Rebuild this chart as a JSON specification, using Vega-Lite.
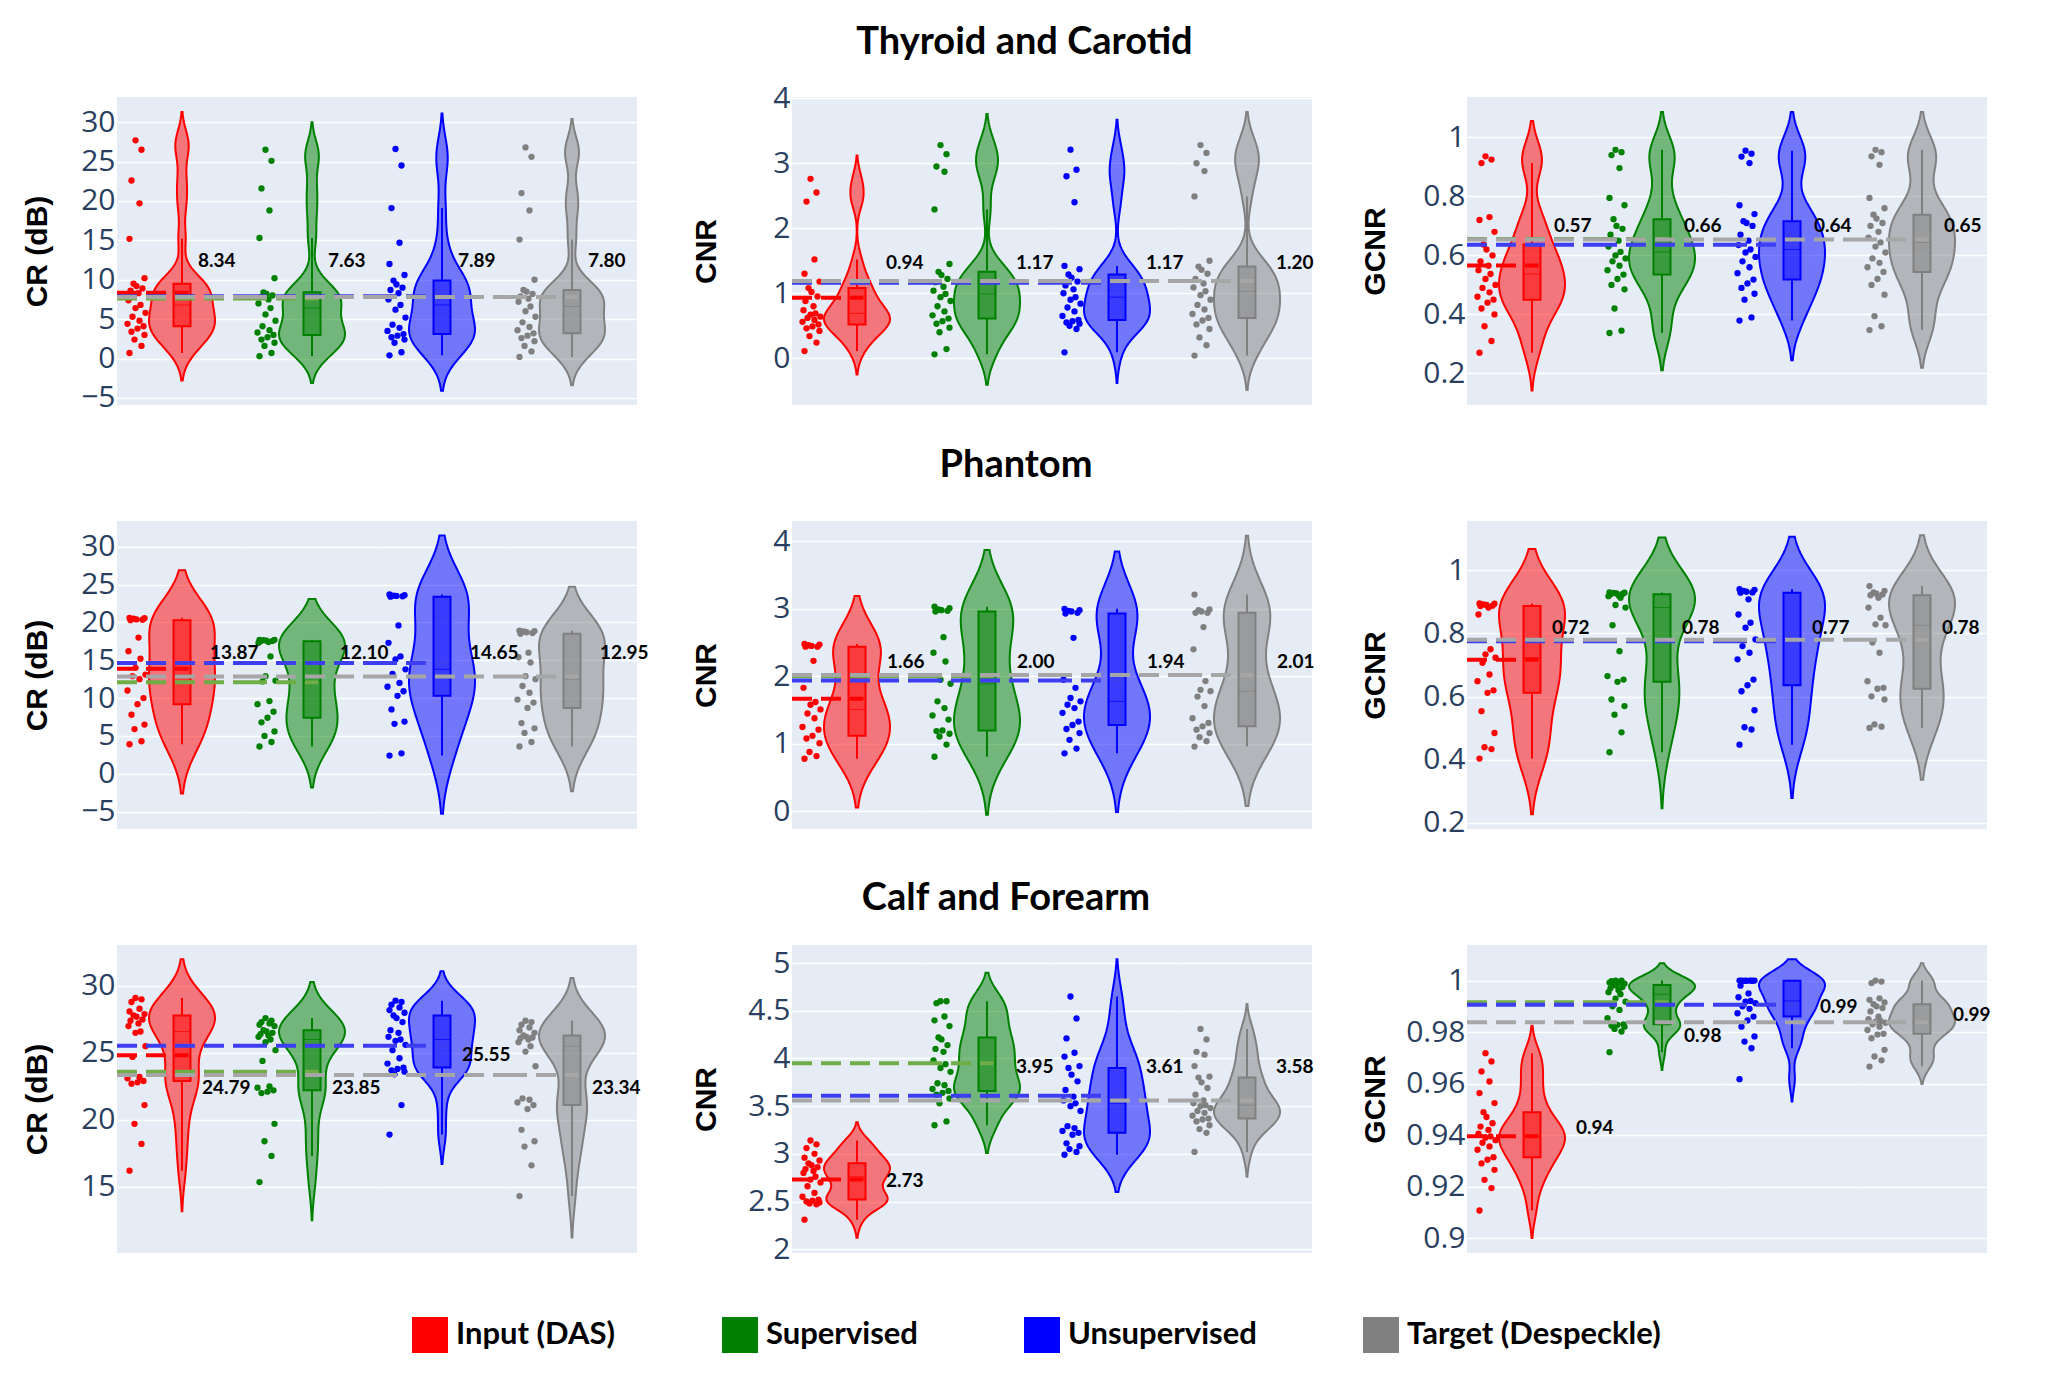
{
"$schema": "https://vega.github.io/schema/vega-lite/v6.json",
"autosize": {"type": "none"},
"padding": {"left": 117, "top": 97, "right": 1949, "bottom": 1280},
"background": "#FFFFFF",
"datasets": {
"T_CR": [
{"g":"Input (DAS)","v":0.7},{"g":"Input (DAS)","v":1.6},{"g":"Input (DAS)","v":2.4},{"g":"Input (DAS)","v":3.0},{"g":"Input (DAS)","v":3.4},{"g":"Input (DAS)","v":3.8},{"g":"Input (DAS)","v":4.1},{"g":"Input (DAS)","v":4.4},{"g":"Input (DAS)","v":4.8},{"g":"Input (DAS)","v":5.3},{"g":"Input (DAS)","v":5.8},{"g":"Input (DAS)","v":6.4},{"g":"Input (DAS)","v":6.8},{"g":"Input (DAS)","v":7.4},{"g":"Input (DAS)","v":8.3},{"g":"Input (DAS)","v":8.6},{"g":"Input (DAS)","v":8.9},{"g":"Input (DAS)","v":9.2},{"g":"Input (DAS)","v":9.5},{"g":"Input (DAS)","v":10.2},{"g":"Input (DAS)","v":15.2},{"g":"Input (DAS)","v":19.7},{"g":"Input (DAS)","v":22.6},{"g":"Input (DAS)","v":26.5},{"g":"Input (DAS)","v":27.7},
{"g":"Supervised","v":0.3},{"g":"Supervised","v":0.7},{"g":"Supervised","v":1.6},{"g":"Supervised","v":2.0},{"g":"Supervised","v":2.4},{"g":"Supervised","v":2.7},{"g":"Supervised","v":3.0},{"g":"Supervised","v":3.3},{"g":"Supervised","v":3.6},{"g":"Supervised","v":4.1},{"g":"Supervised","v":4.8},{"g":"Supervised","v":5.6},{"g":"Supervised","v":6.4},{"g":"Supervised","v":7.0},{"g":"Supervised","v":7.5},{"g":"Supervised","v":7.8},{"g":"Supervised","v":8.0},{"g":"Supervised","v":8.2},{"g":"Supervised","v":8.4},{"g":"Supervised","v":10.2},{"g":"Supervised","v":15.3},{"g":"Supervised","v":18.8},{"g":"Supervised","v":21.6},{"g":"Supervised","v":25.1},{"g":"Supervised","v":26.5},
{"g":"Unsupervised","v":0.4},{"g":"Unsupervised","v":0.8},{"g":"Unsupervised","v":2.0},{"g":"Unsupervised","v":2.4},{"g":"Unsupervised","v":2.7},{"g":"Unsupervised","v":2.9},{"g":"Unsupervised","v":3.1},{"g":"Unsupervised","v":3.5},{"g":"Unsupervised","v":3.9},{"g":"Unsupervised","v":4.3},{"g":"Unsupervised","v":5.2},{"g":"Unsupervised","v":6.2},{"g":"Unsupervised","v":6.8},{"g":"Unsupervised","v":7.5},{"g":"Unsupervised","v":8.3},{"g":"Unsupervised","v":8.7},{"g":"Unsupervised","v":9.0},{"g":"Unsupervised","v":9.4},{"g":"Unsupervised","v":9.9},{"g":"Unsupervised","v":10.6},{"g":"Unsupervised","v":12.0},{"g":"Unsupervised","v":14.7},{"g":"Unsupervised","v":19.1},{"g":"Unsupervised","v":24.5},{"g":"Unsupervised","v":26.6},
{"g":"Target (Despeckle)","v":0.2},{"g":"Target (Despeckle)","v":0.9},{"g":"Target (Despeckle)","v":1.6},{"g":"Target (Despeckle)","v":2.2},{"g":"Target (Despeckle)","v":2.6},{"g":"Target (Despeckle)","v":2.9},{"g":"Target (Despeckle)","v":3.2},{"g":"Target (Despeckle)","v":3.6},{"g":"Target (Despeckle)","v":4.0},{"g":"Target (Despeckle)","v":4.6},{"g":"Target (Despeckle)","v":5.3},{"g":"Target (Despeckle)","v":6.0},{"g":"Target (Despeckle)","v":6.6},{"g":"Target (Despeckle)","v":7.2},{"g":"Target (Despeckle)","v":7.6},{"g":"Target (Despeckle)","v":7.9},{"g":"Target (Despeckle)","v":8.2},{"g":"Target (Despeckle)","v":8.5},{"g":"Target (Despeckle)","v":8.7},{"g":"Target (Despeckle)","v":10.0},{"g":"Target (Despeckle)","v":15.1},{"g":"Target (Despeckle)","v":18.8},{"g":"Target (Despeckle)","v":21.0},{"g":"Target (Despeckle)","v":25.6},{"g":"Target (Despeckle)","v":26.8}
],
"T_CNR": [
{"g":"Input (DAS)","v":0.11},{"g":"Input (DAS)","v":0.24},{"g":"Input (DAS)","v":0.34},{"g":"Input (DAS)","v":0.42},{"g":"Input (DAS)","v":0.46},{"g":"Input (DAS)","v":0.49},{"g":"Input (DAS)","v":0.52},{"g":"Input (DAS)","v":0.56},{"g":"Input (DAS)","v":0.59},{"g":"Input (DAS)","v":0.62},{"g":"Input (DAS)","v":0.64},{"g":"Input (DAS)","v":0.67},{"g":"Input (DAS)","v":0.69},{"g":"Input (DAS)","v":0.74},{"g":"Input (DAS)","v":0.80},{"g":"Input (DAS)","v":0.88},{"g":"Input (DAS)","v":0.95},{"g":"Input (DAS)","v":1.02},{"g":"Input (DAS)","v":1.08},{"g":"Input (DAS)","v":1.18},{"g":"Input (DAS)","v":1.30},{"g":"Input (DAS)","v":1.52},{"g":"Input (DAS)","v":2.41},{"g":"Input (DAS)","v":2.55},{"g":"Input (DAS)","v":2.76},
{"g":"Supervised","v":0.06},{"g":"Supervised","v":0.14},{"g":"Supervised","v":0.40},{"g":"Supervised","v":0.47},{"g":"Supervised","v":0.53},{"g":"Supervised","v":0.57},{"g":"Supervised","v":0.61},{"g":"Supervised","v":0.66},{"g":"Supervised","v":0.72},{"g":"Supervised","v":0.80},{"g":"Supervised","v":0.88},{"g":"Supervised","v":0.94},{"g":"Supervised","v":0.99},{"g":"Supervised","v":1.04},{"g":"Supervised","v":1.10},{"g":"Supervised","v":1.17},{"g":"Supervised","v":1.22},{"g":"Supervised","v":1.28},{"g":"Supervised","v":1.33},{"g":"Supervised","v":1.45},{"g":"Supervised","v":2.29},{"g":"Supervised","v":2.87},{"g":"Supervised","v":2.95},{"g":"Supervised","v":3.14},{"g":"Supervised","v":3.28},
{"g":"Unsupervised","v":0.09},{"g":"Unsupervised","v":0.45},{"g":"Unsupervised","v":0.50},{"g":"Unsupervised","v":0.53},{"g":"Unsupervised","v":0.55},{"g":"Unsupervised","v":0.57},{"g":"Unsupervised","v":0.59},{"g":"Unsupervised","v":0.65},{"g":"Unsupervised","v":0.72},{"g":"Unsupervised","v":0.78},{"g":"Unsupervised","v":0.84},{"g":"Unsupervised","v":0.90},{"g":"Unsupervised","v":0.94},{"g":"Unsupervised","v":1.00},{"g":"Unsupervised","v":1.06},{"g":"Unsupervised","v":1.12},{"g":"Unsupervised","v":1.18},{"g":"Unsupervised","v":1.24},{"g":"Unsupervised","v":1.29},{"g":"Unsupervised","v":1.37},{"g":"Unsupervised","v":1.42},{"g":"Unsupervised","v":2.40},{"g":"Unsupervised","v":2.80},{"g":"Unsupervised","v":2.90},{"g":"Unsupervised","v":3.21},
{"g":"Target (Despeckle)","v":0.04},{"g":"Target (Despeckle)","v":0.20},{"g":"Target (Despeckle)","v":0.32},{"g":"Target (Despeckle)","v":0.45},{"g":"Target (Despeckle)","v":0.52},{"g":"Target (Despeckle)","v":0.58},{"g":"Target (Despeckle)","v":0.62},{"g":"Target (Despeckle)","v":0.68},{"g":"Target (Despeckle)","v":0.75},{"g":"Target (Despeckle)","v":0.82},{"g":"Target (Despeckle)","v":0.90},{"g":"Target (Despeckle)","v":0.97},{"g":"Target (Despeckle)","v":1.03},{"g":"Target (Despeckle)","v":1.09},{"g":"Target (Despeckle)","v":1.15},{"g":"Target (Despeckle)","v":1.22},{"g":"Target (Despeckle)","v":1.30},{"g":"Target (Despeckle)","v":1.36},{"g":"Target (Despeckle)","v":1.41},{"g":"Target (Despeckle)","v":1.50},{"g":"Target (Despeckle)","v":2.49},{"g":"Target (Despeckle)","v":2.88},{"g":"Target (Despeckle)","v":3.00},{"g":"Target (Despeckle)","v":3.16},{"g":"Target (Despeckle)","v":3.28}
],
"T_GCNR": [
{"g":"Input (DAS)","v":0.27},{"g":"Input (DAS)","v":0.31},{"g":"Input (DAS)","v":0.36},{"g":"Input (DAS)","v":0.40},{"g":"Input (DAS)","v":0.42},{"g":"Input (DAS)","v":0.44},{"g":"Input (DAS)","v":0.45},{"g":"Input (DAS)","v":0.46},{"g":"Input (DAS)","v":0.475},{"g":"Input (DAS)","v":0.49},{"g":"Input (DAS)","v":0.50},{"g":"Input (DAS)","v":0.52},{"g":"Input (DAS)","v":0.537},{"g":"Input (DAS)","v":0.55},{"g":"Input (DAS)","v":0.565},{"g":"Input (DAS)","v":0.58},{"g":"Input (DAS)","v":0.60},{"g":"Input (DAS)","v":0.62},{"g":"Input (DAS)","v":0.637},{"g":"Input (DAS)","v":0.68},{"g":"Input (DAS)","v":0.72},{"g":"Input (DAS)","v":0.73},{"g":"Input (DAS)","v":0.913},{"g":"Input (DAS)","v":0.925},{"g":"Input (DAS)","v":0.936},
{"g":"Supervised","v":0.337},{"g":"Supervised","v":0.345},{"g":"Supervised","v":0.42},{"g":"Supervised","v":0.485},{"g":"Supervised","v":0.50},{"g":"Supervised","v":0.52},{"g":"Supervised","v":0.535},{"g":"Supervised","v":0.55},{"g":"Supervised","v":0.565},{"g":"Supervised","v":0.58},{"g":"Supervised","v":0.59},{"g":"Supervised","v":0.60},{"g":"Supervised","v":0.612},{"g":"Supervised","v":0.63},{"g":"Supervised","v":0.65},{"g":"Supervised","v":0.67},{"g":"Supervised","v":0.69},{"g":"Supervised","v":0.70},{"g":"Supervised","v":0.723},{"g":"Supervised","v":0.77},{"g":"Supervised","v":0.795},{"g":"Supervised","v":0.896},{"g":"Supervised","v":0.94},{"g":"Supervised","v":0.95},{"g":"Supervised","v":0.958},
{"g":"Unsupervised","v":0.379},{"g":"Unsupervised","v":0.39},{"g":"Unsupervised","v":0.45},{"g":"Unsupervised","v":0.47},{"g":"Unsupervised","v":0.49},{"g":"Unsupervised","v":0.505},{"g":"Unsupervised","v":0.518},{"g":"Unsupervised","v":0.54},{"g":"Unsupervised","v":0.56},{"g":"Unsupervised","v":0.58},{"g":"Unsupervised","v":0.595},{"g":"Unsupervised","v":0.61},{"g":"Unsupervised","v":0.62},{"g":"Unsupervised","v":0.635},{"g":"Unsupervised","v":0.65},{"g":"Unsupervised","v":0.67},{"g":"Unsupervised","v":0.70},{"g":"Unsupervised","v":0.71},{"g":"Unsupervised","v":0.716},{"g":"Unsupervised","v":0.74},{"g":"Unsupervised","v":0.77},{"g":"Unsupervised","v":0.913},{"g":"Unsupervised","v":0.935},{"g":"Unsupervised","v":0.945},{"g":"Unsupervised","v":0.955},
{"g":"Target (Despeckle)","v":0.347},{"g":"Target (Despeckle)","v":0.36},{"g":"Target (Despeckle)","v":0.394},{"g":"Target (Despeckle)","v":0.467},{"g":"Target (Despeckle)","v":0.50},{"g":"Target (Despeckle)","v":0.52},{"g":"Target (Despeckle)","v":0.544},{"g":"Target (Despeckle)","v":0.56},{"g":"Target (Despeckle)","v":0.575},{"g":"Target (Despeckle)","v":0.59},{"g":"Target (Despeckle)","v":0.61},{"g":"Target (Despeckle)","v":0.63},{"g":"Target (Despeckle)","v":0.644},{"g":"Target (Despeckle)","v":0.66},{"g":"Target (Despeckle)","v":0.68},{"g":"Target (Despeckle)","v":0.70},{"g":"Target (Despeckle)","v":0.71},{"g":"Target (Despeckle)","v":0.725},{"g":"Target (Despeckle)","v":0.738},{"g":"Target (Despeckle)","v":0.76},{"g":"Target (Despeckle)","v":0.795},{"g":"Target (Despeckle)","v":0.907},{"g":"Target (Despeckle)","v":0.936},{"g":"Target (Despeckle)","v":0.95},{"g":"Target (Despeckle)","v":0.958}
],
"P_CR": [
{"g":"Input (DAS)","v":3.9},{"g":"Input (DAS)","v":4.3},{"g":"Input (DAS)","v":5.9},{"g":"Input (DAS)","v":6.5},{"g":"Input (DAS)","v":7.8},{"g":"Input (DAS)","v":9.2},{"g":"Input (DAS)","v":10.0},{"g":"Input (DAS)","v":11.0},{"g":"Input (DAS)","v":12.5},{"g":"Input (DAS)","v":12.9},{"g":"Input (DAS)","v":13.1},{"g":"Input (DAS)","v":14.0},{"g":"Input (DAS)","v":15.2},{"g":"Input (DAS)","v":16.2},{"g":"Input (DAS)","v":18.0},{"g":"Input (DAS)","v":20.3},{"g":"Input (DAS)","v":20.35},{"g":"Input (DAS)","v":20.4},{"g":"Input (DAS)","v":20.5},{"g":"Input (DAS)","v":20.55},{"g":"Input (DAS)","v":20.6},
{"g":"Supervised","v":3.6},{"g":"Supervised","v":4.2},{"g":"Supervised","v":5.0},{"g":"Supervised","v":5.6},{"g":"Supervised","v":6.8},{"g":"Supervised","v":7.4},{"g":"Supervised","v":8.2},{"g":"Supervised","v":9.2},{"g":"Supervised","v":9.6},{"g":"Supervised","v":12.2},{"g":"Supervised","v":12.3},{"g":"Supervised","v":12.9},{"g":"Supervised","v":15.5},{"g":"Supervised","v":17.3},{"g":"Supervised","v":17.4},{"g":"Supervised","v":17.5},{"g":"Supervised","v":17.55},{"g":"Supervised","v":17.6},{"g":"Supervised","v":17.65},{"g":"Supervised","v":17.7},{"g":"Supervised","v":17.7},
{"g":"Unsupervised","v":2.4},{"g":"Unsupervised","v":2.7},{"g":"Unsupervised","v":6.6},{"g":"Unsupervised","v":6.9},{"g":"Unsupervised","v":8.5},{"g":"Unsupervised","v":10.3},{"g":"Unsupervised","v":10.9},{"g":"Unsupervised","v":11.5},{"g":"Unsupervised","v":12.0},{"g":"Unsupervised","v":13.2},{"g":"Unsupervised","v":13.8},{"g":"Unsupervised","v":15.1},{"g":"Unsupervised","v":15.5},{"g":"Unsupervised","v":17.3},{"g":"Unsupervised","v":19.6},{"g":"Unsupervised","v":23.4},{"g":"Unsupervised","v":23.45},{"g":"Unsupervised","v":23.5},{"g":"Unsupervised","v":23.55},{"g":"Unsupervised","v":23.6},{"g":"Unsupervised","v":23.7},
{"g":"Target (Despeckle)","v":3.6},{"g":"Target (Despeckle)","v":4.2},{"g":"Target (Despeckle)","v":5.4},{"g":"Target (Despeckle)","v":6.0},{"g":"Target (Despeckle)","v":6.7},{"g":"Target (Despeckle)","v":8.7},{"g":"Target (Despeckle)","v":9.4},{"g":"Target (Despeckle)","v":9.8},{"g":"Target (Despeckle)","v":10.7},{"g":"Target (Despeckle)","v":11.6},{"g":"Target (Despeckle)","v":12.5},{"g":"Target (Despeckle)","v":12.9},{"g":"Target (Despeckle)","v":14.7},{"g":"Target (Despeckle)","v":15.4},{"g":"Target (Despeckle)","v":16.0},{"g":"Target (Despeckle)","v":18.5},{"g":"Target (Despeckle)","v":18.6},{"g":"Target (Despeckle)","v":18.7},{"g":"Target (Despeckle)","v":18.8},{"g":"Target (Despeckle)","v":18.85},{"g":"Target (Despeckle)","v":18.9}
],
"P_CNR": [
{"g":"Input (DAS)","v":0.78},{"g":"Input (DAS)","v":0.82},{"g":"Input (DAS)","v":0.88},{"g":"Input (DAS)","v":1.01},{"g":"Input (DAS)","v":1.08},{"g":"Input (DAS)","v":1.12},{"g":"Input (DAS)","v":1.21},{"g":"Input (DAS)","v":1.25},{"g":"Input (DAS)","v":1.38},{"g":"Input (DAS)","v":1.45},{"g":"Input (DAS)","v":1.51},{"g":"Input (DAS)","v":1.58},{"g":"Input (DAS)","v":1.62},{"g":"Input (DAS)","v":1.83},{"g":"Input (DAS)","v":2.23},{"g":"Input (DAS)","v":2.44},{"g":"Input (DAS)","v":2.44},{"g":"Input (DAS)","v":2.45},{"g":"Input (DAS)","v":2.46},{"g":"Input (DAS)","v":2.47},{"g":"Input (DAS)","v":2.48},
{"g":"Supervised","v":0.81},{"g":"Supervised","v":0.99},{"g":"Supervised","v":1.11},{"g":"Supervised","v":1.15},{"g":"Supervised","v":1.19},{"g":"Supervised","v":1.20},{"g":"Supervised","v":1.36},{"g":"Supervised","v":1.42},{"g":"Supervised","v":1.53},{"g":"Supervised","v":1.63},{"g":"Supervised","v":1.89},{"g":"Supervised","v":1.95},{"g":"Supervised","v":2.22},{"g":"Supervised","v":2.35},{"g":"Supervised","v":2.58},{"g":"Supervised","v":2.96},{"g":"Supervised","v":2.97},{"g":"Supervised","v":2.98},{"g":"Supervised","v":2.99},{"g":"Supervised","v":3.01},{"g":"Supervised","v":3.03},
{"g":"Unsupervised","v":0.86},{"g":"Unsupervised","v":0.93},{"g":"Unsupervised","v":1.06},{"g":"Unsupervised","v":1.16},{"g":"Unsupervised","v":1.22},{"g":"Unsupervised","v":1.28},{"g":"Unsupervised","v":1.33},{"g":"Unsupervised","v":1.46},{"g":"Unsupervised","v":1.53},{"g":"Unsupervised","v":1.58},{"g":"Unsupervised","v":1.63},{"g":"Unsupervised","v":1.68},{"g":"Unsupervised","v":1.83},{"g":"Unsupervised","v":1.95},{"g":"Unsupervised","v":2.57},{"g":"Unsupervised","v":2.93},{"g":"Unsupervised","v":2.94},{"g":"Unsupervised","v":2.96},{"g":"Unsupervised","v":2.97},{"g":"Unsupervised","v":2.98},{"g":"Unsupervised","v":3.00},
{"g":"Target (Despeckle)","v":0.96},{"g":"Target (Despeckle)","v":1.04},{"g":"Target (Despeckle)","v":1.10},{"g":"Target (Despeckle)","v":1.16},{"g":"Target (Despeckle)","v":1.21},{"g":"Target (Despeckle)","v":1.26},{"g":"Target (Despeckle)","v":1.31},{"g":"Target (Despeckle)","v":1.38},{"g":"Target (Despeckle)","v":1.56},{"g":"Target (Despeckle)","v":1.70},{"g":"Target (Despeckle)","v":1.78},{"g":"Target (Despeckle)","v":1.80},{"g":"Target (Despeckle)","v":1.93},{"g":"Target (Despeckle)","v":2.40},{"g":"Target (Despeckle)","v":2.73},{"g":"Target (Despeckle)","v":2.94},{"g":"Target (Despeckle)","v":2.94},{"g":"Target (Despeckle)","v":2.96},{"g":"Target (Despeckle)","v":2.98},{"g":"Target (Despeckle)","v":2.99},{"g":"Target (Despeckle)","v":3.21}
],
"P_GCNR": [
{"g":"Input (DAS)","v":0.404},{"g":"Input (DAS)","v":0.434},{"g":"Input (DAS)","v":0.44},{"g":"Input (DAS)","v":0.485},{"g":"Input (DAS)","v":0.554},{"g":"Input (DAS)","v":0.612},{"g":"Input (DAS)","v":0.62},{"g":"Input (DAS)","v":0.649},{"g":"Input (DAS)","v":0.67},{"g":"Input (DAS)","v":0.707},{"g":"Input (DAS)","v":0.723},{"g":"Input (DAS)","v":0.734},{"g":"Input (DAS)","v":0.75},{"g":"Input (DAS)","v":0.86},{"g":"Input (DAS)","v":0.882},{"g":"Input (DAS)","v":0.887},{"g":"Input (DAS)","v":0.888},{"g":"Input (DAS)","v":0.89},{"g":"Input (DAS)","v":0.892},{"g":"Input (DAS)","v":0.894},{"g":"Input (DAS)","v":0.895},
{"g":"Supervised","v":0.424},{"g":"Supervised","v":0.487},{"g":"Supervised","v":0.543},{"g":"Supervised","v":0.57},{"g":"Supervised","v":0.591},{"g":"Supervised","v":0.647},{"g":"Supervised","v":0.654},{"g":"Supervised","v":0.665},{"g":"Supervised","v":0.744},{"g":"Supervised","v":0.826},{"g":"Supervised","v":0.882},{"g":"Supervised","v":0.89},{"g":"Supervised","v":0.913},{"g":"Supervised","v":0.918},{"g":"Supervised","v":0.92},{"g":"Supervised","v":0.924},{"g":"Supervised","v":0.925},{"g":"Supervised","v":0.927},{"g":"Supervised","v":0.928},{"g":"Supervised","v":0.929},{"g":"Supervised","v":0.93},
{"g":"Unsupervised","v":0.448},{"g":"Unsupervised","v":0.496},{"g":"Unsupervised","v":0.503},{"g":"Unsupervised","v":0.557},{"g":"Unsupervised","v":0.617},{"g":"Unsupervised","v":0.636},{"g":"Unsupervised","v":0.654},{"g":"Unsupervised","v":0.718},{"g":"Unsupervised","v":0.739},{"g":"Unsupervised","v":0.76},{"g":"Unsupervised","v":0.781},{"g":"Unsupervised","v":0.818},{"g":"Unsupervised","v":0.834},{"g":"Unsupervised","v":0.86},{"g":"Unsupervised","v":0.908},{"g":"Unsupervised","v":0.929},{"g":"Unsupervised","v":0.93},{"g":"Unsupervised","v":0.932},{"g":"Unsupervised","v":0.935},{"g":"Unsupervised","v":0.938},{"g":"Unsupervised","v":0.94},
{"g":"Target (Despeckle)","v":0.501},{"g":"Target (Despeckle)","v":0.505},{"g":"Target (Despeckle)","v":0.512},{"g":"Target (Despeckle)","v":0.591},{"g":"Target (Despeckle)","v":0.601},{"g":"Target (Despeckle)","v":0.625},{"g":"Target (Despeckle)","v":0.628},{"g":"Target (Despeckle)","v":0.649},{"g":"Target (Despeckle)","v":0.739},{"g":"Target (Despeckle)","v":0.771},{"g":"Target (Despeckle)","v":0.826},{"g":"Target (Despeckle)","v":0.829},{"g":"Target (Despeckle)","v":0.85},{"g":"Target (Despeckle)","v":0.882},{"g":"Target (Despeckle)","v":0.913},{"g":"Target (Despeckle)","v":0.921},{"g":"Target (Despeckle)","v":0.923},{"g":"Target (Despeckle)","v":0.926},{"g":"Target (Despeckle)","v":0.93},{"g":"Target (Despeckle)","v":0.935},{"g":"Target (Despeckle)","v":0.95}
],
"C_CR": [
{"g":"Input (DAS)","v":16.2},{"g":"Input (DAS)","v":18.2},{"g":"Input (DAS)","v":19.7},{"g":"Input (DAS)","v":21.1},{"g":"Input (DAS)","v":22.7},{"g":"Input (DAS)","v":22.8},{"g":"Input (DAS)","v":22.9},{"g":"Input (DAS)","v":23.1},{"g":"Input (DAS)","v":23.2},{"g":"Input (DAS)","v":24.7},{"g":"Input (DAS)","v":25.5},{"g":"Input (DAS)","v":26.5},{"g":"Input (DAS)","v":26.6},{"g":"Input (DAS)","v":27.0},{"g":"Input (DAS)","v":27.2},{"g":"Input (DAS)","v":27.4},{"g":"Input (DAS)","v":27.5},{"g":"Input (DAS)","v":27.7},{"g":"Input (DAS)","v":27.8},{"g":"Input (DAS)","v":27.9},{"g":"Input (DAS)","v":28.1},{"g":"Input (DAS)","v":28.3},{"g":"Input (DAS)","v":28.8},{"g":"Input (DAS)","v":29.0},{"g":"Input (DAS)","v":29.1},
{"g":"Supervised","v":15.35},{"g":"Supervised","v":17.3},{"g":"Supervised","v":18.4},{"g":"Supervised","v":19.7},{"g":"Supervised","v":22.0},{"g":"Supervised","v":22.1},{"g":"Supervised","v":22.2},{"g":"Supervised","v":22.4},{"g":"Supervised","v":22.5},{"g":"Supervised","v":24.4},{"g":"Supervised","v":25.2},{"g":"Supervised","v":25.8},{"g":"Supervised","v":26.0},{"g":"Supervised","v":26.2},{"g":"Supervised","v":26.3},{"g":"Supervised","v":26.4},{"g":"Supervised","v":26.5},{"g":"Supervised","v":26.6},{"g":"Supervised","v":26.7},{"g":"Supervised","v":27.0},{"g":"Supervised","v":27.1},{"g":"Supervised","v":27.2},{"g":"Supervised","v":27.3},{"g":"Supervised","v":27.4},{"g":"Supervised","v":27.6},
{"g":"Unsupervised","v":18.9},{"g":"Unsupervised","v":21.1},{"g":"Unsupervised","v":23.4},{"g":"Unsupervised","v":23.6},{"g":"Unsupervised","v":23.7},{"g":"Unsupervised","v":23.8},{"g":"Unsupervised","v":23.9},{"g":"Unsupervised","v":24.2},{"g":"Unsupervised","v":24.6},{"g":"Unsupervised","v":25.2},{"g":"Unsupervised","v":25.6},{"g":"Unsupervised","v":25.9},{"g":"Unsupervised","v":26.0},{"g":"Unsupervised","v":26.2},{"g":"Unsupervised","v":26.5},{"g":"Unsupervised","v":26.7},{"g":"Unsupervised","v":27.3},{"g":"Unsupervised","v":27.6},{"g":"Unsupervised","v":27.8},{"g":"Unsupervised","v":28.0},{"g":"Unsupervised","v":28.2},{"g":"Unsupervised","v":28.4},{"g":"Unsupervised","v":28.6},{"g":"Unsupervised","v":28.8},{"g":"Unsupervised","v":28.9},
{"g":"Target (Despeckle)","v":14.3},{"g":"Target (Despeckle)","v":16.6},{"g":"Target (Despeckle)","v":18.0},{"g":"Target (Despeckle)","v":18.4},{"g":"Target (Despeckle)","v":19.25},{"g":"Target (Despeckle)","v":20.8},{"g":"Target (Despeckle)","v":21.1},{"g":"Target (Despeckle)","v":21.3},{"g":"Target (Despeckle)","v":21.5},{"g":"Target (Despeckle)","v":21.6},{"g":"Target (Despeckle)","v":24.0},{"g":"Target (Despeckle)","v":25.1},{"g":"Target (Despeckle)","v":25.5},{"g":"Target (Despeckle)","v":25.8},{"g":"Target (Despeckle)","v":26.0},{"g":"Target (Despeckle)","v":26.1},{"g":"Target (Despeckle)","v":26.15},{"g":"Target (Despeckle)","v":26.2},{"g":"Target (Despeckle)","v":26.3},{"g":"Target (Despeckle)","v":26.5},{"g":"Target (Despeckle)","v":26.7},{"g":"Target (Despeckle)","v":26.9},{"g":"Target (Despeckle)","v":27.1},{"g":"Target (Despeckle)","v":27.3},{"g":"Target (Despeckle)","v":27.4}
],
"C_CNR": [
{"g":"Input (DAS)","v":2.31},{"g":"Input (DAS)","v":2.47},{"g":"Input (DAS)","v":2.48},{"g":"Input (DAS)","v":2.49},{"g":"Input (DAS)","v":2.50},{"g":"Input (DAS)","v":2.51},{"g":"Input (DAS)","v":2.52},{"g":"Input (DAS)","v":2.55},{"g":"Input (DAS)","v":2.59},{"g":"Input (DAS)","v":2.66},{"g":"Input (DAS)","v":2.70},{"g":"Input (DAS)","v":2.73},{"g":"Input (DAS)","v":2.76},{"g":"Input (DAS)","v":2.80},{"g":"Input (DAS)","v":2.82},{"g":"Input (DAS)","v":2.84},{"g":"Input (DAS)","v":2.86},{"g":"Input (DAS)","v":2.88},{"g":"Input (DAS)","v":2.90},{"g":"Input (DAS)","v":2.93},{"g":"Input (DAS)","v":2.96},{"g":"Input (DAS)","v":3.00},{"g":"Input (DAS)","v":3.06},{"g":"Input (DAS)","v":3.10},{"g":"Input (DAS)","v":3.14},
{"g":"Supervised","v":3.30},{"g":"Supervised","v":3.34},{"g":"Supervised","v":3.53},{"g":"Supervised","v":3.58},{"g":"Supervised","v":3.62},{"g":"Supervised","v":3.64},{"g":"Supervised","v":3.66},{"g":"Supervised","v":3.68},{"g":"Supervised","v":3.72},{"g":"Supervised","v":3.74},{"g":"Supervised","v":3.86},{"g":"Supervised","v":3.90},{"g":"Supervised","v":3.94},{"g":"Supervised","v":3.98},{"g":"Supervised","v":4.07},{"g":"Supervised","v":4.10},{"g":"Supervised","v":4.14},{"g":"Supervised","v":4.20},{"g":"Supervised","v":4.22},{"g":"Supervised","v":4.34},{"g":"Supervised","v":4.40},{"g":"Supervised","v":4.44},{"g":"Supervised","v":4.58},{"g":"Supervised","v":4.60},{"g":"Supervised","v":4.60},
{"g":"Unsupervised","v":2.99},{"g":"Unsupervised","v":3.02},{"g":"Unsupervised","v":3.05},{"g":"Unsupervised","v":3.08},{"g":"Unsupervised","v":3.11},{"g":"Unsupervised","v":3.20},{"g":"Unsupervised","v":3.22},{"g":"Unsupervised","v":3.24},{"g":"Unsupervised","v":3.27},{"g":"Unsupervised","v":3.29},{"g":"Unsupervised","v":3.45},{"g":"Unsupervised","v":3.50},{"g":"Unsupervised","v":3.53},{"g":"Unsupervised","v":3.56},{"g":"Unsupervised","v":3.60},{"g":"Unsupervised","v":3.67},{"g":"Unsupervised","v":3.76},{"g":"Unsupervised","v":3.83},{"g":"Unsupervised","v":3.90},{"g":"Unsupervised","v":3.92},{"g":"Unsupervised","v":4.02},{"g":"Unsupervised","v":4.06},{"g":"Unsupervised","v":4.21},{"g":"Unsupervised","v":4.42},{"g":"Unsupervised","v":4.65},
{"g":"Target (Despeckle)","v":3.02},{"g":"Target (Despeckle)","v":3.22},{"g":"Target (Despeckle)","v":3.26},{"g":"Target (Despeckle)","v":3.30},{"g":"Target (Despeckle)","v":3.34},{"g":"Target (Despeckle)","v":3.36},{"g":"Target (Despeckle)","v":3.37},{"g":"Target (Despeckle)","v":3.40},{"g":"Target (Despeckle)","v":3.43},{"g":"Target (Despeckle)","v":3.45},{"g":"Target (Despeckle)","v":3.48},{"g":"Target (Despeckle)","v":3.50},{"g":"Target (Despeckle)","v":3.51},{"g":"Target (Despeckle)","v":3.53},{"g":"Target (Despeckle)","v":3.56},{"g":"Target (Despeckle)","v":3.62},{"g":"Target (Despeckle)","v":3.69},{"g":"Target (Despeckle)","v":3.75},{"g":"Target (Despeckle)","v":3.80},{"g":"Target (Despeckle)","v":3.81},{"g":"Target (Despeckle)","v":3.92},{"g":"Target (Despeckle)","v":4.04},{"g":"Target (Despeckle)","v":4.07},{"g":"Target (Despeckle)","v":4.20},{"g":"Target (Despeckle)","v":4.31}
],
"C_GCNR": [
{"g":"Input (DAS)","v":0.9107},{"g":"Input (DAS)","v":0.9194},{"g":"Input (DAS)","v":0.9226},{"g":"Input (DAS)","v":0.9265},{"g":"Input (DAS)","v":0.929},{"g":"Input (DAS)","v":0.9304},{"g":"Input (DAS)","v":0.9314},{"g":"Input (DAS)","v":0.9343},{"g":"Input (DAS)","v":0.9356},{"g":"Input (DAS)","v":0.937},{"g":"Input (DAS)","v":0.938},{"g":"Input (DAS)","v":0.939},{"g":"Input (DAS)","v":0.9395},{"g":"Input (DAS)","v":0.9405},{"g":"Input (DAS)","v":0.942},{"g":"Input (DAS)","v":0.9433},{"g":"Input (DAS)","v":0.9446},{"g":"Input (DAS)","v":0.947},{"g":"Input (DAS)","v":0.9489},{"g":"Input (DAS)","v":0.9524},{"g":"Input (DAS)","v":0.9563},{"g":"Input (DAS)","v":0.9608},{"g":"Input (DAS)","v":0.9647},{"g":"Input (DAS)","v":0.9686},{"g":"Input (DAS)","v":0.9718},
{"g":"Supervised","v":0.9722},{"g":"Supervised","v":0.9802},{"g":"Supervised","v":0.9812},{"g":"Supervised","v":0.9821},{"g":"Supervised","v":0.9825},{"g":"Supervised","v":0.9828},{"g":"Supervised","v":0.983},{"g":"Supervised","v":0.9854},{"g":"Supervised","v":0.9886},{"g":"Supervised","v":0.99},{"g":"Supervised","v":0.9918},{"g":"Supervised","v":0.993},{"g":"Supervised","v":0.9947},{"g":"Supervised","v":0.9955},{"g":"Supervised","v":0.9962},{"g":"Supervised","v":0.997},{"g":"Supervised","v":0.9975},{"g":"Supervised","v":0.998},{"g":"Supervised","v":0.9983},{"g":"Supervised","v":0.9988},{"g":"Supervised","v":0.9992},{"g":"Supervised","v":0.9995},{"g":"Supervised","v":0.9998},{"g":"Supervised","v":1.0},{"g":"Supervised","v":1.0},
{"g":"Unsupervised","v":0.9617},{"g":"Unsupervised","v":0.9737},{"g":"Unsupervised","v":0.9763},{"g":"Unsupervised","v":0.9783},{"g":"Unsupervised","v":0.9821},{"g":"Unsupervised","v":0.9845},{"g":"Unsupervised","v":0.986},{"g":"Unsupervised","v":0.9873},{"g":"Unsupervised","v":0.989},{"g":"Unsupervised","v":0.99},{"g":"Unsupervised","v":0.9912},{"g":"Unsupervised","v":0.9918},{"g":"Unsupervised","v":0.9921},{"g":"Unsupervised","v":0.9935},{"g":"Unsupervised","v":0.995},{"g":"Unsupervised","v":0.998},{"g":"Unsupervised","v":0.9999},{"g":"Unsupervised","v":0.9999},{"g":"Unsupervised","v":0.9999},{"g":"Unsupervised","v":1.0},{"g":"Unsupervised","v":1.0},{"g":"Unsupervised","v":1.0},{"g":"Unsupervised","v":1.0},{"g":"Unsupervised","v":1.0},{"g":"Unsupervised","v":1.0},
{"g":"Target (Despeckle)","v":0.9666},{"g":"Target (Despeckle)","v":0.969},{"g":"Target (Despeckle)","v":0.9705},{"g":"Target (Despeckle)","v":0.9731},{"g":"Target (Despeckle)","v":0.9776},{"g":"Target (Despeckle)","v":0.979},{"g":"Target (Despeckle)","v":0.9793},{"g":"Target (Despeckle)","v":0.9808},{"g":"Target (Despeckle)","v":0.9821},{"g":"Target (Despeckle)","v":0.983},{"g":"Target (Despeckle)","v":0.9836},{"g":"Target (Despeckle)","v":0.984},{"g":"Target (Despeckle)","v":0.9843},{"g":"Target (Despeckle)","v":0.985},{"g":"Target (Despeckle)","v":0.986},{"g":"Target (Despeckle)","v":0.988},{"g":"Target (Despeckle)","v":0.9893},{"g":"Target (Despeckle)","v":0.99},{"g":"Target (Despeckle)","v":0.9908},{"g":"Target (Despeckle)","v":0.9915},{"g":"Target (Despeckle)","v":0.9925},{"g":"Target (Despeckle)","v":0.9931},{"g":"Target (Despeckle)","v":0.999},{"g":"Target (Despeckle)","v":0.9996},{"g":"Target (Despeckle)","v":1.0}
],
"means": [
{"r":"T","m":"CR","g":"Input (DAS)","mean":8.34,"label":"8.34","ly":12.34},
{"r":"T","m":"CR","g":"Supervised","mean":7.63,"label":"7.63","ly":12.34},
{"r":"T","m":"CR","g":"Unsupervised","mean":7.89,"label":"7.89","ly":12.34},
{"r":"T","m":"CR","g":"Target (Despeckle)","mean":7.80,"label":"7.80","ly":12.34},
{"r":"T","m":"CNR","g":"Input (DAS)","mean":0.93,"label":"0.94","ly":1.46},
{"r":"T","m":"CNR","g":"Supervised","mean":1.17,"label":"1.17","ly":1.46},
{"r":"T","m":"CNR","g":"Unsupervised","mean":1.16,"label":"1.17","ly":1.46},
{"r":"T","m":"CNR","g":"Target (Despeckle)","mean":1.19,"label":"1.20","ly":1.46},
{"r":"T","m":"GCNR","g":"Input (DAS)","mean":0.566,"label":"0.57","ly":0.699},
{"r":"T","m":"GCNR","g":"Supervised","mean":0.656,"label":"0.66","ly":0.699},
{"r":"T","m":"GCNR","g":"Unsupervised","mean":0.636,"label":"0.64","ly":0.699},
{"r":"T","m":"GCNR","g":"Target (Despeckle)","mean":0.654,"label":"0.65","ly":0.699},
{"r":"P","m":"CR","g":"Input (DAS)","mean":13.87,"label":"13.87","ly":15.9},
{"r":"P","m":"CR","g":"Supervised","mean":12.10,"label":"12.10","ly":15.9},
{"r":"P","m":"CR","g":"Unsupervised","mean":14.65,"label":"14.65","ly":15.9},
{"r":"P","m":"CR","g":"Target (Despeckle)","mean":12.85,"label":"12.95","ly":15.9},
{"r":"P","m":"CNR","g":"Input (DAS)","mean":1.67,"label":"1.66","ly":2.21},
{"r":"P","m":"CNR","g":"Supervised","mean":2.00,"label":"2.00","ly":2.21},
{"r":"P","m":"CNR","g":"Unsupervised","mean":1.94,"label":"1.94","ly":2.21},
{"r":"P","m":"CNR","g":"Target (Despeckle)","mean":2.02,"label":"2.01","ly":2.21},
{"r":"P","m":"GCNR","g":"Input (DAS)","mean":0.717,"label":"0.72","ly":0.818},
{"r":"P","m":"GCNR","g":"Supervised","mean":0.779,"label":"0.78","ly":0.818},
{"r":"P","m":"GCNR","g":"Unsupervised","mean":0.775,"label":"0.77","ly":0.818},
{"r":"P","m":"GCNR","g":"Target (Despeckle)","mean":0.780,"label":"0.78","ly":0.818},
{"r":"C","m":"CR","g":"Input (DAS)","mean":24.83,"label":"24.79","ly":22.41},
{"r":"C","m":"CR","g":"Supervised","mean":23.6,"label":"23.85","ly":22.41},
{"r":"C","m":"CR","g":"Unsupervised","mean":25.53,"label":"25.55","ly":24.85},
{"r":"C","m":"CR","g":"Target (Despeckle)","mean":23.35,"label":"23.34","ly":22.41},
{"r":"C","m":"CNR","g":"Input (DAS)","mean":2.73,"label":"2.73","ly":2.71},
{"r":"C","m":"CNR","g":"Supervised","mean":3.95,"label":"3.95","ly":3.906},
{"r":"C","m":"CNR","g":"Unsupervised","mean":3.61,"label":"3.61","ly":3.906},
{"r":"C","m":"CNR","g":"Target (Despeckle)","mean":3.56,"label":"3.58","ly":3.906},
{"r":"C","m":"GCNR","g":"Input (DAS)","mean":0.9395,"label":"0.94","ly":0.9427},
{"r":"C","m":"GCNR","g":"Supervised","mean":0.9916,"label":"0.98","ly":0.9785},
{"r":"C","m":"GCNR","g":"Unsupervised","mean":0.9906,"label":"0.99","ly":0.9899},
{"r":"C","m":"GCNR","g":"Target (Despeckle)","mean":0.9838,"label":"0.99","ly":0.9867}
]
},
"columns": 14,
"spacing": {"row": 116, "column": 0},
"bounds": "flush",
"concat": [
{"width":130,"height":308,"resolve":{"scale":{"x":"independent"}},"layer":[
{"data":{"name":"T_CR"},"transform":[{"filter":"datum.g=='Input (DAS)'"},{"density":"v","bandwidth":1.77,"extent":[-2.8,31.3],"steps":100}],"mark":{"type":"area","orient":"horizontal","fill":"#FF0000","stroke":"#FF0000","style":"vio"},"encoding":{"y":{"field":"value","type":"quantitative","scale":{"domain":[-5.9,33.2],"nice":false,"zero":false},"axis":{"title":"CR (dB)","values":[-5,0,5,10,15,20,25,30],"format":"~g","titleX":-71,"titleBaseline":"alphabetic"}},"x":{"field":"density","type":"quantitative","stack":"center","impute":null,"scale":{"nice":false,"zero":false,"padding":32},"axis":null}}},
{"data":{"name":"T_CR"},"transform":[{"filter":"datum.g=='Input (DAS)'"}],"mark":{"type":"boxplot","outliers":false,"size":17,"box":{"fill":"#FF0000","stroke":"#FF0000","fillOpacity":0.5,"strokeWidth":2},"median":{"color":"#FF0000","strokeWidth":2},"rule":{"color":"#FF0000","strokeWidth":2}},"encoding":{"y":{"field":"v","type":"quantitative","title":"CR (dB)"}}},
{"data":{"name":"T_CR"},"transform":[{"filter":"datum.g=='Input (DAS)'"},{"window":[{"op":"row_number","as":"k"}]}],"mark":{"type":"circle","size":40,"opacity":1},"encoding":{"x":{"datum":0.15,"type":"quantitative","scale":{"domain":[0,1]},"axis":null},"xOffset":{"field":"k","type":"quantitative","scale":{"domain":[1,2,3,4,5,6,7,8,9,10,11,12,13,14,15,16,17,18,19,20,21,22,23,24,25],"range":[-7,5,-2,8,-5,1,7,-9,3,-4,9,-1,4,-8,2,-6,6,0,-3,8,-7,3,-5,5,-1],"nice":false,"zero":false}},"y":{"field":"v","type":"quantitative"},"color":{"field":"g","type":"nominal","scale":{"domain":["Input (DAS)","Supervised","Unsupervised","Target (Despeckle)"],"range":["#FF0000","#008000","#0000FF","#808080"]},"legend":{"title":null,"orient":"none","legendX":295,"legendY":1220,"direction":"horizontal","symbolType":"square","symbolSize":1296,"symbolOpacity":0.78,"symbolStrokeWidth":0,"labelExpr":"datum.label == 'Target (Despeckle)' ? '\u00a0\u00a0\u00a0\u00a0\u00a0\u00a0\u00a0Target (Despeckle)' : datum.label"}}}},
{"data":{"name":"means"},"transform":[{"filter":"datum.r=='T'&&datum.m=='CR'&&datum.g=='Input (DAS)'"}],"mark":{"type":"rule","style":"mline"},"encoding":{"x":{"datum":0,"type":"quantitative","scale":{"domain":[0,1]},"axis":null},"x2":{"datum":0.55},"y":{"field":"mean","type":"quantitative"},"stroke":{"field":"g","type":"nominal","scale":{"domain":["Input (DAS)","Supervised","Unsupervised","Target (Despeckle)"],"range":["#FF0000","#70AD47","#3D3DF2","#A6A6A6"]},"legend":null}}},
{"data":{"name":"means"},"transform":[{"filter":"datum.r=='T'&&datum.m=='CR'&&indexof(['Supervised','Unsupervised','Target (Despeckle)'],datum.g)>=0"}],"mark":{"type":"rule","style":"mline"},"encoding":{"x":{"datum":0,"type":"quantitative","scale":{"domain":[0,1]},"axis":null},"x2":{"datum":1},"y":{"field":"mean","type":"quantitative"},"stroke":{"field":"g","type":"nominal","legend":null}}}
]},
{"width":130,"height":308,"resolve":{"scale":{"x":"independent"}},"layer":[
{"data":{"name":"T_CR"},"transform":[{"filter":"datum.g=='Supervised'"},{"density":"v","bandwidth":1.72,"extent":[-3.1,30.0],"steps":100}],"mark":{"type":"area","orient":"horizontal","fill":"#008000","stroke":"#008000","style":"vio"},"encoding":{"y":{"field":"value","type":"quantitative","scale":{"domain":[-5.9,33.2],"nice":false,"zero":false},"axis":{"values":[-5,0,5,10,15,20,25,30],"labels":false,"title":null}},"x":{"field":"density","type":"quantitative","stack":"center","impute":null,"scale":{"nice":false,"zero":false,"padding":32},"axis":null}}},
{"data":{"name":"T_CR"},"transform":[{"filter":"datum.g=='Supervised'"}],"mark":{"type":"boxplot","outliers":false,"size":17,"box":{"fill":"#008000","stroke":"#008000","fillOpacity":0.5,"strokeWidth":2},"median":{"color":"#008000","strokeWidth":2},"rule":{"color":"#008000","strokeWidth":2}},"encoding":{"y":{"field":"v","type":"quantitative","title":null}}},
{"data":{"name":"T_CR"},"transform":[{"filter":"datum.g=='Supervised'"},{"window":[{"op":"row_number","as":"k"}]}],"mark":{"type":"circle","size":40,"opacity":1},"encoding":{"x":{"datum":0.15,"type":"quantitative","scale":{"domain":[0,1]},"axis":null},"xOffset":{"field":"k","type":"quantitative","scale":{"domain":[1,2,3,4,5,6,7,8,9,10,11,12,13,14,15,16,17,18,19,20,21,22,23,24,25],"range":[-7,5,-2,8,-5,1,7,-9,3,-4,9,-1,4,-8,2,-6,6,0,-3,8,-7,3,-5,5,-1],"nice":false,"zero":false}},"y":{"field":"v","type":"quantitative"},"color":{"field":"g","type":"nominal"}}},
{"data":{"name":"means"},"transform":[{"filter":"datum.r=='T'&&datum.m=='CR'&&datum.g=='Supervised'"}],"mark":{"type":"rule","style":"mline"},"encoding":{"x":{"datum":0,"type":"quantitative","scale":{"domain":[0,1]},"axis":null},"x2":{"datum":0.55},"y":{"field":"mean","type":"quantitative"},"stroke":{"field":"g","type":"nominal","legend":null}}},
{"data":{"name":"means"},"transform":[{"filter":"datum.r=='T'&&datum.m=='CR'&&indexof(['Unsupervised','Target (Despeckle)'],datum.g)>=0"}],"mark":{"type":"rule","style":"mline"},"encoding":{"x":{"datum":0,"type":"quantitative","scale":{"domain":[0,1]},"axis":null},"x2":{"datum":1},"y":{"field":"mean","type":"quantitative"},"stroke":{"field":"g","type":"nominal","legend":null}}},
{"data":{"name":"means"},"transform":[{"filter":"datum.r=='T'&&datum.m=='CR'&&datum.g=='Input (DAS)'"}],"mark":{"type":"text","style":"lbl","dx":16},"encoding":{"x":{"datum":-0.5,"type":"quantitative","scale":{"domain":[0,1]},"axis":null},"y":{"field":"ly","type":"quantitative"},"text":{"field":"label","type":"nominal"}}}
]},
{"width":130,"height":308,"resolve":{"scale":{"x":"independent"}},"layer":[
{"data":{"name":"T_CR"},"transform":[{"filter":"datum.g=='Unsupervised'"},{"density":"v","bandwidth":2.25,"extent":[-4.1,31.1],"steps":100}],"mark":{"type":"area","orient":"horizontal","fill":"#0000FF","stroke":"#0000FF","style":"vio"},"encoding":{"y":{"field":"value","type":"quantitative","scale":{"domain":[-5.9,33.2],"nice":false,"zero":false},"axis":{"values":[-5,0,5,10,15,20,25,30],"labels":false,"title":null}},"x":{"field":"density","type":"quantitative","stack":"center","impute":null,"scale":{"nice":false,"zero":false,"padding":32},"axis":null}}},
{"data":{"name":"T_CR"},"transform":[{"filter":"datum.g=='Unsupervised'"}],"mark":{"type":"boxplot","outliers":false,"size":17,"box":{"fill":"#0000FF","stroke":"#0000FF","fillOpacity":0.5,"strokeWidth":2},"median":{"color":"#0000FF","strokeWidth":2},"rule":{"color":"#0000FF","strokeWidth":2}},"encoding":{"y":{"field":"v","type":"quantitative","title":null}}},
{"data":{"name":"T_CR"},"transform":[{"filter":"datum.g=='Unsupervised'"},{"window":[{"op":"row_number","as":"k"}]}],"mark":{"type":"circle","size":40,"opacity":1},"encoding":{"x":{"datum":0.15,"type":"quantitative","scale":{"domain":[0,1]},"axis":null},"xOffset":{"field":"k","type":"quantitative","scale":{"domain":[1,2,3,4,5,6,7,8,9,10,11,12,13,14,15,16,17,18,19,20,21,22,23,24,25],"range":[-7,5,-2,8,-5,1,7,-9,3,-4,9,-1,4,-8,2,-6,6,0,-3,8,-7,3,-5,5,-1],"nice":false,"zero":false}},"y":{"field":"v","type":"quantitative"},"color":{"field":"g","type":"nominal"}}},
{"data":{"name":"means"},"transform":[{"filter":"datum.r=='T'&&datum.m=='CR'&&datum.g=='Unsupervised'"}],"mark":{"type":"rule","style":"mline"},"encoding":{"x":{"datum":0,"type":"quantitative","scale":{"domain":[0,1]},"axis":null},"x2":{"datum":0.55},"y":{"field":"mean","type":"quantitative"},"stroke":{"field":"g","type":"nominal","legend":null}}},
{"data":{"name":"means"},"transform":[{"filter":"datum.r=='T'&&datum.m=='CR'&&datum.g=='Target (Despeckle)'"}],"mark":{"type":"rule","style":"mline"},"encoding":{"x":{"datum":0,"type":"quantitative","scale":{"domain":[0,1]},"axis":null},"x2":{"datum":1},"y":{"field":"mean","type":"quantitative"},"stroke":{"field":"g","type":"nominal","legend":null}}},
{"data":{"name":"means"},"transform":[{"filter":"datum.r=='T'&&datum.m=='CR'&&datum.g=='Supervised'"}],"mark":{"type":"text","style":"lbl","dx":16},"encoding":{"x":{"datum":-0.5,"type":"quantitative","scale":{"domain":[0,1]},"axis":null},"y":{"field":"ly","type":"quantitative"},"text":{"field":"label","type":"nominal"}}}
]},
{"width":130,"height":308,"resolve":{"scale":{"x":"independent"}},"layer":[
{"data":{"name":"T_CR"},"transform":[{"filter":"datum.g=='Target (Despeckle)'"},{"density":"v","bandwidth":1.8,"extent":[-3.4,30.4],"steps":100}],"mark":{"type":"area","orient":"horizontal","fill":"#808080","stroke":"#808080","style":"vio"},"encoding":{"y":{"field":"value","type":"quantitative","scale":{"domain":[-5.9,33.2],"nice":false,"zero":false},"axis":{"values":[-5,0,5,10,15,20,25,30],"labels":false,"title":null}},"x":{"field":"density","type":"quantitative","stack":"center","impute":null,"scale":{"nice":false,"zero":false,"padding":32},"axis":null}}},
{"data":{"name":"T_CR"},"transform":[{"filter":"datum.g=='Target (Despeckle)'"}],"mark":{"type":"boxplot","outliers":false,"size":17,"box":{"fill":"#808080","stroke":"#808080","fillOpacity":0.5,"strokeWidth":2},"median":{"color":"#808080","strokeWidth":2},"rule":{"color":"#808080","strokeWidth":2}},"encoding":{"y":{"field":"v","type":"quantitative","title":null}}},
{"data":{"name":"T_CR"},"transform":[{"filter":"datum.g=='Target (Despeckle)'"},{"window":[{"op":"row_number","as":"k"}]}],"mark":{"type":"circle","size":40,"opacity":1},"encoding":{"x":{"datum":0.15,"type":"quantitative","scale":{"domain":[0,1]},"axis":null},"xOffset":{"field":"k","type":"quantitative","scale":{"domain":[1,2,3,4,5,6,7,8,9,10,11,12,13,14,15,16,17,18,19,20,21,22,23,24,25],"range":[-7,5,-2,8,-5,1,7,-9,3,-4,9,-1,4,-8,2,-6,6,0,-3,8,-7,3,-5,5,-1],"nice":false,"zero":false}},"y":{"field":"v","type":"quantitative"},"color":{"field":"g","type":"nominal"}}},
{"data":{"name":"means"},"transform":[{"filter":"datum.r=='T'&&datum.m=='CR'&&datum.g=='Target (Despeckle)'"}],"mark":{"type":"rule","style":"mline"},"encoding":{"x":{"datum":0,"type":"quantitative","scale":{"domain":[0,1]},"axis":null},"x2":{"datum":0.55},"y":{"field":"mean","type":"quantitative"},"stroke":{"field":"g","type":"nominal","legend":null}}},
{"data":{"name":"means"},"transform":[{"filter":"datum.r=='T'&&datum.m=='CR'&&datum.g=='Unsupervised'"}],"mark":{"type":"text","style":"lbl","dx":16},"encoding":{"x":{"datum":-0.5,"type":"quantitative","scale":{"domain":[0,1]},"axis":null},"y":{"field":"ly","type":"quantitative"},"text":{"field":"label","type":"nominal"}}},
{"data":{"name":"means"},"transform":[{"filter":"datum.r=='T'&&datum.m=='CR'&&datum.g=='Target (Despeckle)'"}],"mark":{"type":"text","style":"lbl","dx":16},"encoding":{"x":{"datum":0.5,"type":"quantitative","scale":{"domain":[0,1]},"axis":null},"y":{"field":"ly","type":"quantitative"},"text":{"field":"label","type":"nominal"}}}
]},
{"width":154.5,"height":308,"data":{"values":[]},"mark":{"type":"point"},"encoding":{},"view":{"fill":"transparent","stroke":null}},
{"width":130,"height":308,"resolve":{"scale":{"x":"independent"}},"layer":[
{"data":{"name":"T_CNR"},"transform":[{"filter":"datum.g=='Input (DAS)'"},{"density":"v","bandwidth":0.18,"extent":[-0.25,3.12],"steps":100}],"mark":{"type":"area","orient":"horizontal","fill":"#FF0000","stroke":"#FF0000","style":"vio"},"encoding":{"y":{"field":"value","type":"quantitative","scale":{"domain":[-0.72,4.02],"nice":false,"zero":false},"axis":{"title":"CNR","values":[0,1,2,3,4],"format":"~g","titleX":-77,"titleBaseline":"alphabetic"}},"x":{"field":"density","type":"quantitative","stack":"center","impute":null,"scale":{"nice":false,"zero":false,"padding":32},"axis":null}}},
{"data":{"name":"T_CNR"},"transform":[{"filter":"datum.g=='Input (DAS)'"}],"mark":{"type":"boxplot","outliers":false,"size":17,"box":{"fill":"#FF0000","stroke":"#FF0000","fillOpacity":0.5,"strokeWidth":2},"median":{"color":"#FF0000","strokeWidth":2},"rule":{"color":"#FF0000","strokeWidth":2}},"encoding":{"y":{"field":"v","type":"quantitative","title":"CNR"}}},
{"data":{"name":"T_CNR"},"transform":[{"filter":"datum.g=='Input (DAS)'"},{"window":[{"op":"row_number","as":"k"}]}],"mark":{"type":"circle","size":40,"opacity":1},"encoding":{"x":{"datum":0.15,"type":"quantitative","scale":{"domain":[0,1]},"axis":null},"xOffset":{"field":"k","type":"quantitative","scale":{"domain":[1,2,3,4,5,6,7,8,9,10,11,12,13,14,15,16,17,18,19,20,21,22,23,24,25],"range":[-7,5,-2,8,-5,1,7,-9,3,-4,9,-1,4,-8,2,-6,6,0,-3,8,-7,3,-5,5,-1],"nice":false,"zero":false}},"y":{"field":"v","type":"quantitative"},"color":{"field":"g","type":"nominal"}}},
{"data":{"name":"means"},"transform":[{"filter":"datum.r=='T'&&datum.m=='CNR'&&datum.g=='Input (DAS)'"}],"mark":{"type":"rule","style":"mline"},"encoding":{"x":{"datum":0,"type":"quantitative","scale":{"domain":[0,1]},"axis":null},"x2":{"datum":0.55},"y":{"field":"mean","type":"quantitative"},"stroke":{"field":"g","type":"nominal","legend":null}}},
{"data":{"name":"means"},"transform":[{"filter":"datum.r=='T'&&datum.m=='CNR'&&indexof(['Supervised','Unsupervised','Target (Despeckle)'],datum.g)>=0"}],"mark":{"type":"rule","style":"mline"},"encoding":{"x":{"datum":0,"type":"quantitative","scale":{"domain":[0,1]},"axis":null},"x2":{"datum":1},"y":{"field":"mean","type":"quantitative"},"stroke":{"field":"g","type":"nominal","legend":null}}}
]},
{"width":130,"height":308,"title":{"text":"Thyroid and Carotid","dx":37.5,"offset":35},"resolve":{"scale":{"x":"independent"}},"layer":[
{"data":{"name":"T_CNR"},"transform":[{"filter":"datum.g=='Supervised'"},{"density":"v","bandwidth":0.24,"extent":[-0.41,3.76],"steps":100}],"mark":{"type":"area","orient":"horizontal","fill":"#008000","stroke":"#008000","style":"vio"},"encoding":{"y":{"field":"value","type":"quantitative","scale":{"domain":[-0.72,4.02],"nice":false,"zero":false},"axis":{"values":[0,1,2,3,4],"labels":false,"title":null}},"x":{"field":"density","type":"quantitative","stack":"center","impute":null,"scale":{"nice":false,"zero":false,"padding":32},"axis":null}}},
{"data":{"name":"T_CNR"},"transform":[{"filter":"datum.g=='Supervised'"}],"mark":{"type":"boxplot","outliers":false,"size":17,"box":{"fill":"#008000","stroke":"#008000","fillOpacity":0.5,"strokeWidth":2},"median":{"color":"#008000","strokeWidth":2},"rule":{"color":"#008000","strokeWidth":2}},"encoding":{"y":{"field":"v","type":"quantitative","title":null}}},
{"data":{"name":"T_CNR"},"transform":[{"filter":"datum.g=='Supervised'"},{"window":[{"op":"row_number","as":"k"}]}],"mark":{"type":"circle","size":40,"opacity":1},"encoding":{"x":{"datum":0.15,"type":"quantitative","scale":{"domain":[0,1]},"axis":null},"xOffset":{"field":"k","type":"quantitative","scale":{"domain":[1,2,3,4,5,6,7,8,9,10,11,12,13,14,15,16,17,18,19,20,21,22,23,24,25],"range":[-7,5,-2,8,-5,1,7,-9,3,-4,9,-1,4,-8,2,-6,6,0,-3,8,-7,3,-5,5,-1],"nice":false,"zero":false}},"y":{"field":"v","type":"quantitative"},"color":{"field":"g","type":"nominal"}}},
{"data":{"name":"means"},"transform":[{"filter":"datum.r=='T'&&datum.m=='CNR'&&datum.g=='Supervised'"}],"mark":{"type":"rule","style":"mline"},"encoding":{"x":{"datum":0,"type":"quantitative","scale":{"domain":[0,1]},"axis":null},"x2":{"datum":0.55},"y":{"field":"mean","type":"quantitative"},"stroke":{"field":"g","type":"nominal","legend":null}}},
{"data":{"name":"means"},"transform":[{"filter":"datum.r=='T'&&datum.m=='CNR'&&indexof(['Unsupervised','Target (Despeckle)'],datum.g)>=0"}],"mark":{"type":"rule","style":"mline"},"encoding":{"x":{"datum":0,"type":"quantitative","scale":{"domain":[0,1]},"axis":null},"x2":{"datum":1},"y":{"field":"mean","type":"quantitative"},"stroke":{"field":"g","type":"nominal","legend":null}}},
{"data":{"name":"means"},"transform":[{"filter":"datum.r=='T'&&datum.m=='CNR'&&datum.g=='Input (DAS)'"}],"mark":{"type":"text","style":"lbl","dx":29},"encoding":{"x":{"datum":-0.5,"type":"quantitative","scale":{"domain":[0,1]},"axis":null},"y":{"field":"ly","type":"quantitative"},"text":{"field":"label","type":"nominal"}}}
]},
{"width":130,"height":308,"resolve":{"scale":{"x":"independent"}},"layer":[
{"data":{"name":"T_CNR"},"transform":[{"filter":"datum.g=='Unsupervised'"},{"density":"v","bandwidth":0.23,"extent":[-0.38,3.67],"steps":100}],"mark":{"type":"area","orient":"horizontal","fill":"#0000FF","stroke":"#0000FF","style":"vio"},"encoding":{"y":{"field":"value","type":"quantitative","scale":{"domain":[-0.72,4.02],"nice":false,"zero":false},"axis":{"values":[0,1,2,3,4],"labels":false,"title":null}},"x":{"field":"density","type":"quantitative","stack":"center","impute":null,"scale":{"nice":false,"zero":false,"padding":32},"axis":null}}},
{"data":{"name":"T_CNR"},"transform":[{"filter":"datum.g=='Unsupervised'"}],"mark":{"type":"boxplot","outliers":false,"size":17,"box":{"fill":"#0000FF","stroke":"#0000FF","fillOpacity":0.5,"strokeWidth":2},"median":{"color":"#0000FF","strokeWidth":2},"rule":{"color":"#0000FF","strokeWidth":2}},"encoding":{"y":{"field":"v","type":"quantitative","title":null}}},
{"data":{"name":"T_CNR"},"transform":[{"filter":"datum.g=='Unsupervised'"},{"window":[{"op":"row_number","as":"k"}]}],"mark":{"type":"circle","size":40,"opacity":1},"encoding":{"x":{"datum":0.15,"type":"quantitative","scale":{"domain":[0,1]},"axis":null},"xOffset":{"field":"k","type":"quantitative","scale":{"domain":[1,2,3,4,5,6,7,8,9,10,11,12,13,14,15,16,17,18,19,20,21,22,23,24,25],"range":[-7,5,-2,8,-5,1,7,-9,3,-4,9,-1,4,-8,2,-6,6,0,-3,8,-7,3,-5,5,-1],"nice":false,"zero":false}},"y":{"field":"v","type":"quantitative"},"color":{"field":"g","type":"nominal"}}},
{"data":{"name":"means"},"transform":[{"filter":"datum.r=='T'&&datum.m=='CNR'&&datum.g=='Unsupervised'"}],"mark":{"type":"rule","style":"mline"},"encoding":{"x":{"datum":0,"type":"quantitative","scale":{"domain":[0,1]},"axis":null},"x2":{"datum":0.55},"y":{"field":"mean","type":"quantitative"},"stroke":{"field":"g","type":"nominal","legend":null}}},
{"data":{"name":"means"},"transform":[{"filter":"datum.r=='T'&&datum.m=='CNR'&&datum.g=='Target (Despeckle)'"}],"mark":{"type":"rule","style":"mline"},"encoding":{"x":{"datum":0,"type":"quantitative","scale":{"domain":[0,1]},"axis":null},"x2":{"datum":1},"y":{"field":"mean","type":"quantitative"},"stroke":{"field":"g","type":"nominal","legend":null}}},
{"data":{"name":"means"},"transform":[{"filter":"datum.r=='T'&&datum.m=='CNR'&&datum.g=='Supervised'"}],"mark":{"type":"text","style":"lbl","dx":29},"encoding":{"x":{"datum":-0.5,"type":"quantitative","scale":{"domain":[0,1]},"axis":null},"y":{"field":"ly","type":"quantitative"},"text":{"field":"label","type":"nominal"}}}
]},
{"width":130,"height":308,"resolve":{"scale":{"x":"independent"}},"layer":[
{"data":{"name":"T_CNR"},"transform":[{"filter":"datum.g=='Target (Despeckle)'"},{"density":"v","bandwidth":0.26,"extent":[-0.49,3.79],"steps":100}],"mark":{"type":"area","orient":"horizontal","fill":"#808080","stroke":"#808080","style":"vio"},"encoding":{"y":{"field":"value","type":"quantitative","scale":{"domain":[-0.72,4.02],"nice":false,"zero":false},"axis":{"values":[0,1,2,3,4],"labels":false,"title":null}},"x":{"field":"density","type":"quantitative","stack":"center","impute":null,"scale":{"nice":false,"zero":false,"padding":32},"axis":null}}},
{"data":{"name":"T_CNR"},"transform":[{"filter":"datum.g=='Target (Despeckle)'"}],"mark":{"type":"boxplot","outliers":false,"size":17,"box":{"fill":"#808080","stroke":"#808080","fillOpacity":0.5,"strokeWidth":2},"median":{"color":"#808080","strokeWidth":2},"rule":{"color":"#808080","strokeWidth":2}},"encoding":{"y":{"field":"v","type":"quantitative","title":null}}},
{"data":{"name":"T_CNR"},"transform":[{"filter":"datum.g=='Target (Despeckle)'"},{"window":[{"op":"row_number","as":"k"}]}],"mark":{"type":"circle","size":40,"opacity":1},"encoding":{"x":{"datum":0.15,"type":"quantitative","scale":{"domain":[0,1]},"axis":null},"xOffset":{"field":"k","type":"quantitative","scale":{"domain":[1,2,3,4,5,6,7,8,9,10,11,12,13,14,15,16,17,18,19,20,21,22,23,24,25],"range":[-7,5,-2,8,-5,1,7,-9,3,-4,9,-1,4,-8,2,-6,6,0,-3,8,-7,3,-5,5,-1],"nice":false,"zero":false}},"y":{"field":"v","type":"quantitative"},"color":{"field":"g","type":"nominal"}}},
{"data":{"name":"means"},"transform":[{"filter":"datum.r=='T'&&datum.m=='CNR'&&datum.g=='Target (Despeckle)'"}],"mark":{"type":"rule","style":"mline"},"encoding":{"x":{"datum":0,"type":"quantitative","scale":{"domain":[0,1]},"axis":null},"x2":{"datum":0.55},"y":{"field":"mean","type":"quantitative"},"stroke":{"field":"g","type":"nominal","legend":null}}},
{"data":{"name":"means"},"transform":[{"filter":"datum.r=='T'&&datum.m=='CNR'&&datum.g=='Unsupervised'"}],"mark":{"type":"text","style":"lbl","dx":29},"encoding":{"x":{"datum":-0.5,"type":"quantitative","scale":{"domain":[0,1]},"axis":null},"y":{"field":"ly","type":"quantitative"},"text":{"field":"label","type":"nominal"}}},
{"data":{"name":"means"},"transform":[{"filter":"datum.r=='T'&&datum.m=='CNR'&&datum.g=='Target (Despeckle)'"}],"mark":{"type":"text","style":"lbl","dx":29},"encoding":{"x":{"datum":0.5,"type":"quantitative","scale":{"domain":[0,1]},"axis":null},"y":{"field":"ly","type":"quantitative"},"text":{"field":"label","type":"nominal"}}}
]},
{"width":154.5,"height":308,"data":{"values":[]},"mark":{"type":"point"},"encoding":{},"view":{"fill":"transparent","stroke":null}},
{"width":130,"height":308,"resolve":{"scale":{"x":"independent"}},"layer":[
{"data":{"name":"T_GCNR"},"transform":[{"filter":"datum.g=='Input (DAS)'"},{"density":"v","bandwidth":0.062,"extent":[0.142,1.056],"steps":100}],"mark":{"type":"area","orient":"horizontal","fill":"#FF0000","stroke":"#FF0000","style":"vio"},"encoding":{"y":{"field":"value","type":"quantitative","scale":{"domain":[0.093,1.137],"nice":false,"zero":false},"axis":{"title":"GCNR","values":[0.2,0.4,0.6,0.8,1],"format":"~g","titleX":-83,"titleBaseline":"alphabetic"}},"x":{"field":"density","type":"quantitative","stack":"center","impute":null,"scale":{"nice":false,"zero":false,"padding":32},"axis":null}}},
{"data":{"name":"T_GCNR"},"transform":[{"filter":"datum.g=='Input (DAS)'"}],"mark":{"type":"boxplot","outliers":false,"size":17,"box":{"fill":"#FF0000","stroke":"#FF0000","fillOpacity":0.5,"strokeWidth":2},"median":{"color":"#FF0000","strokeWidth":2},"rule":{"color":"#FF0000","strokeWidth":2}},"encoding":{"y":{"field":"v","type":"quantitative","title":"GCNR"}}},
{"data":{"name":"T_GCNR"},"transform":[{"filter":"datum.g=='Input (DAS)'"},{"window":[{"op":"row_number","as":"k"}]}],"mark":{"type":"circle","size":40,"opacity":1},"encoding":{"x":{"datum":0.15,"type":"quantitative","scale":{"domain":[0,1]},"axis":null},"xOffset":{"field":"k","type":"quantitative","scale":{"domain":[1,2,3,4,5,6,7,8,9,10,11,12,13,14,15,16,17,18,19,20,21,22,23,24,25],"range":[-7,5,-2,8,-5,1,7,-9,3,-4,9,-1,4,-8,2,-6,6,0,-3,8,-7,3,-5,5,-1],"nice":false,"zero":false}},"y":{"field":"v","type":"quantitative"},"color":{"field":"g","type":"nominal"}}},
{"data":{"name":"means"},"transform":[{"filter":"datum.r=='T'&&datum.m=='GCNR'&&datum.g=='Input (DAS)'"}],"mark":{"type":"rule","style":"mline"},"encoding":{"x":{"datum":0,"type":"quantitative","scale":{"domain":[0,1]},"axis":null},"x2":{"datum":0.55},"y":{"field":"mean","type":"quantitative"},"stroke":{"field":"g","type":"nominal","legend":null}}},
{"data":{"name":"means"},"transform":[{"filter":"datum.r=='T'&&datum.m=='GCNR'&&indexof(['Supervised','Unsupervised','Target (Despeckle)'],datum.g)>=0"}],"mark":{"type":"rule","style":"mline"},"encoding":{"x":{"datum":0,"type":"quantitative","scale":{"domain":[0,1]},"axis":null},"x2":{"datum":1},"y":{"field":"mean","type":"quantitative"},"stroke":{"field":"g","type":"nominal","legend":null}}}
]},
{"width":130,"height":308,"resolve":{"scale":{"x":"independent"}},"layer":[
{"data":{"name":"T_GCNR"},"transform":[{"filter":"datum.g=='Supervised'"},{"density":"v","bandwidth":0.063,"extent":[0.211,1.086],"steps":100}],"mark":{"type":"area","orient":"horizontal","fill":"#008000","stroke":"#008000","style":"vio"},"encoding":{"y":{"field":"value","type":"quantitative","scale":{"domain":[0.093,1.137],"nice":false,"zero":false},"axis":{"values":[0.2,0.4,0.6,0.8,1],"labels":false,"title":null}},"x":{"field":"density","type":"quantitative","stack":"center","impute":null,"scale":{"nice":false,"zero":false,"padding":32},"axis":null}}},
{"data":{"name":"T_GCNR"},"transform":[{"filter":"datum.g=='Supervised'"}],"mark":{"type":"boxplot","outliers":false,"size":17,"box":{"fill":"#008000","stroke":"#008000","fillOpacity":0.5,"strokeWidth":2},"median":{"color":"#008000","strokeWidth":2},"rule":{"color":"#008000","strokeWidth":2}},"encoding":{"y":{"field":"v","type":"quantitative","title":null}}},
{"data":{"name":"T_GCNR"},"transform":[{"filter":"datum.g=='Supervised'"},{"window":[{"op":"row_number","as":"k"}]}],"mark":{"type":"circle","size":40,"opacity":1},"encoding":{"x":{"datum":0.15,"type":"quantitative","scale":{"domain":[0,1]},"axis":null},"xOffset":{"field":"k","type":"quantitative","scale":{"domain":[1,2,3,4,5,6,7,8,9,10,11,12,13,14,15,16,17,18,19,20,21,22,23,24,25],"range":[-7,5,-2,8,-5,1,7,-9,3,-4,9,-1,4,-8,2,-6,6,0,-3,8,-7,3,-5,5,-1],"nice":false,"zero":false}},"y":{"field":"v","type":"quantitative"},"color":{"field":"g","type":"nominal"}}},
{"data":{"name":"means"},"transform":[{"filter":"datum.r=='T'&&datum.m=='GCNR'&&datum.g=='Supervised'"}],"mark":{"type":"rule","style":"mline"},"encoding":{"x":{"datum":0,"type":"quantitative","scale":{"domain":[0,1]},"axis":null},"x2":{"datum":0.55},"y":{"field":"mean","type":"quantitative"},"stroke":{"field":"g","type":"nominal","legend":null}}},
{"data":{"name":"means"},"transform":[{"filter":"datum.r=='T'&&datum.m=='GCNR'&&indexof(['Unsupervised','Target (Despeckle)'],datum.g)>=0"}],"mark":{"type":"rule","style":"mline"},"encoding":{"x":{"datum":0,"type":"quantitative","scale":{"domain":[0,1]},"axis":null},"x2":{"datum":1},"y":{"field":"mean","type":"quantitative"},"stroke":{"field":"g","type":"nominal","legend":null}}},
{"data":{"name":"means"},"transform":[{"filter":"datum.r=='T'&&datum.m=='GCNR'&&datum.g=='Input (DAS)'"}],"mark":{"type":"text","style":"lbl","dx":22},"encoding":{"x":{"datum":-0.5,"type":"quantitative","scale":{"domain":[0,1]},"axis":null},"y":{"field":"ly","type":"quantitative"},"text":{"field":"label","type":"nominal"}}}
]},
{"width":130,"height":308,"resolve":{"scale":{"x":"independent"}},"layer":[
{"data":{"name":"T_GCNR"},"transform":[{"filter":"datum.g=='Unsupervised'"},{"density":"v","bandwidth":0.066,"extent":[0.245,1.086],"steps":100}],"mark":{"type":"area","orient":"horizontal","fill":"#0000FF","stroke":"#0000FF","style":"vio"},"encoding":{"y":{"field":"value","type":"quantitative","scale":{"domain":[0.093,1.137],"nice":false,"zero":false},"axis":{"values":[0.2,0.4,0.6,0.8,1],"labels":false,"title":null}},"x":{"field":"density","type":"quantitative","stack":"center","impute":null,"scale":{"nice":false,"zero":false,"padding":32},"axis":null}}},
{"data":{"name":"T_GCNR"},"transform":[{"filter":"datum.g=='Unsupervised'"}],"mark":{"type":"boxplot","outliers":false,"size":17,"box":{"fill":"#0000FF","stroke":"#0000FF","fillOpacity":0.5,"strokeWidth":2},"median":{"color":"#0000FF","strokeWidth":2},"rule":{"color":"#0000FF","strokeWidth":2}},"encoding":{"y":{"field":"v","type":"quantitative","title":null}}},
{"data":{"name":"T_GCNR"},"transform":[{"filter":"datum.g=='Unsupervised'"},{"window":[{"op":"row_number","as":"k"}]}],"mark":{"type":"circle","size":40,"opacity":1},"encoding":{"x":{"datum":0.15,"type":"quantitative","scale":{"domain":[0,1]},"axis":null},"xOffset":{"field":"k","type":"quantitative","scale":{"domain":[1,2,3,4,5,6,7,8,9,10,11,12,13,14,15,16,17,18,19,20,21,22,23,24,25],"range":[-7,5,-2,8,-5,1,7,-9,3,-4,9,-1,4,-8,2,-6,6,0,-3,8,-7,3,-5,5,-1],"nice":false,"zero":false}},"y":{"field":"v","type":"quantitative"},"color":{"field":"g","type":"nominal"}}},
{"data":{"name":"means"},"transform":[{"filter":"datum.r=='T'&&datum.m=='GCNR'&&datum.g=='Unsupervised'"}],"mark":{"type":"rule","style":"mline"},"encoding":{"x":{"datum":0,"type":"quantitative","scale":{"domain":[0,1]},"axis":null},"x2":{"datum":0.55},"y":{"field":"mean","type":"quantitative"},"stroke":{"field":"g","type":"nominal","legend":null}}},
{"data":{"name":"means"},"transform":[{"filter":"datum.r=='T'&&datum.m=='GCNR'&&datum.g=='Target (Despeckle)'"}],"mark":{"type":"rule","style":"mline"},"encoding":{"x":{"datum":0,"type":"quantitative","scale":{"domain":[0,1]},"axis":null},"x2":{"datum":1},"y":{"field":"mean","type":"quantitative"},"stroke":{"field":"g","type":"nominal","legend":null}}},
{"data":{"name":"means"},"transform":[{"filter":"datum.r=='T'&&datum.m=='GCNR'&&datum.g=='Supervised'"}],"mark":{"type":"text","style":"lbl","dx":22},"encoding":{"x":{"datum":-0.5,"type":"quantitative","scale":{"domain":[0,1]},"axis":null},"y":{"field":"ly","type":"quantitative"},"text":{"field":"label","type":"nominal"}}}
]},
{"width":130,"height":308,"resolve":{"scale":{"x":"independent"}},"layer":[
{"data":{"name":"T_GCNR"},"transform":[{"filter":"datum.g=='Target (Despeckle)'"},{"density":"v","bandwidth":0.064,"extent":[0.219,1.086],"steps":100}],"mark":{"type":"area","orient":"horizontal","fill":"#808080","stroke":"#808080","style":"vio"},"encoding":{"y":{"field":"value","type":"quantitative","scale":{"domain":[0.093,1.137],"nice":false,"zero":false},"axis":{"values":[0.2,0.4,0.6,0.8,1],"labels":false,"title":null}},"x":{"field":"density","type":"quantitative","stack":"center","impute":null,"scale":{"nice":false,"zero":false,"padding":32},"axis":null}}},
{"data":{"name":"T_GCNR"},"transform":[{"filter":"datum.g=='Target (Despeckle)'"}],"mark":{"type":"boxplot","outliers":false,"size":17,"box":{"fill":"#808080","stroke":"#808080","fillOpacity":0.5,"strokeWidth":2},"median":{"color":"#808080","strokeWidth":2},"rule":{"color":"#808080","strokeWidth":2}},"encoding":{"y":{"field":"v","type":"quantitative","title":null}}},
{"data":{"name":"T_GCNR"},"transform":[{"filter":"datum.g=='Target (Despeckle)'"},{"window":[{"op":"row_number","as":"k"}]}],"mark":{"type":"circle","size":40,"opacity":1},"encoding":{"x":{"datum":0.15,"type":"quantitative","scale":{"domain":[0,1]},"axis":null},"xOffset":{"field":"k","type":"quantitative","scale":{"domain":[1,2,3,4,5,6,7,8,9,10,11,12,13,14,15,16,17,18,19,20,21,22,23,24,25],"range":[-7,5,-2,8,-5,1,7,-9,3,-4,9,-1,4,-8,2,-6,6,0,-3,8,-7,3,-5,5,-1],"nice":false,"zero":false}},"y":{"field":"v","type":"quantitative"},"color":{"field":"g","type":"nominal"}}},
{"data":{"name":"means"},"transform":[{"filter":"datum.r=='T'&&datum.m=='GCNR'&&datum.g=='Target (Despeckle)'"}],"mark":{"type":"rule","style":"mline"},"encoding":{"x":{"datum":0,"type":"quantitative","scale":{"domain":[0,1]},"axis":null},"x2":{"datum":0.55},"y":{"field":"mean","type":"quantitative"},"stroke":{"field":"g","type":"nominal","legend":null}}},
{"data":{"name":"means"},"transform":[{"filter":"datum.r=='T'&&datum.m=='GCNR'&&datum.g=='Unsupervised'"}],"mark":{"type":"text","style":"lbl","dx":22},"encoding":{"x":{"datum":-0.5,"type":"quantitative","scale":{"domain":[0,1]},"axis":null},"y":{"field":"ly","type":"quantitative"},"text":{"field":"label","type":"nominal"}}},
{"data":{"name":"means"},"transform":[{"filter":"datum.r=='T'&&datum.m=='GCNR'&&datum.g=='Target (Despeckle)'"}],"mark":{"type":"text","style":"lbl","dx":22},"encoding":{"x":{"datum":0.5,"type":"quantitative","scale":{"domain":[0,1]},"axis":null},"y":{"field":"ly","type":"quantitative"},"text":{"field":"label","type":"nominal"}}}
]},
{"width":130,"height":308,"resolve":{"scale":{"x":"independent"}},"layer":[
{"data":{"name":"P_CR"},"transform":[{"filter":"datum.g=='Input (DAS)'"},{"density":"v","bandwidth":3.2,"extent":[-2.6,26.9],"steps":100}],"mark":{"type":"area","orient":"horizontal","fill":"#FF0000","stroke":"#FF0000","style":"vio"},"encoding":{"y":{"field":"value","type":"quantitative","scale":{"domain":[-7.3,33.4],"nice":false,"zero":false},"axis":{"title":"CR (dB)","values":[-5,0,5,10,15,20,25,30],"format":"~g","titleX":-71,"titleBaseline":"alphabetic"}},"x":{"field":"density","type":"quantitative","stack":"center","impute":null,"scale":{"nice":false,"zero":false,"padding":32},"axis":null}}},
{"data":{"name":"P_CR"},"transform":[{"filter":"datum.g=='Input (DAS)'"}],"mark":{"type":"boxplot","outliers":false,"size":17,"box":{"fill":"#FF0000","stroke":"#FF0000","fillOpacity":0.5,"strokeWidth":2},"median":{"color":"#FF0000","strokeWidth":2},"rule":{"color":"#FF0000","strokeWidth":2}},"encoding":{"y":{"field":"v","type":"quantitative","title":"CR (dB)"}}},
{"data":{"name":"P_CR"},"transform":[{"filter":"datum.g=='Input (DAS)'"},{"window":[{"op":"row_number","as":"k"}]}],"mark":{"type":"circle","size":40,"opacity":1},"encoding":{"x":{"datum":0.15,"type":"quantitative","scale":{"domain":[0,1]},"axis":null},"xOffset":{"field":"k","type":"quantitative","scale":{"domain":[1,2,3,4,5,6,7,8,9,10,11,12,13,14,15,16,17,18,19,20,21,22,23,24,25],"range":[-7,5,-2,8,-5,1,7,-9,3,-4,9,-1,4,-8,2,-6,6,0,-3,8,-7,3,-5,5,-1],"nice":false,"zero":false}},"y":{"field":"v","type":"quantitative"},"color":{"field":"g","type":"nominal"}}},
{"data":{"name":"means"},"transform":[{"filter":"datum.r=='P'&&datum.m=='CR'&&datum.g=='Input (DAS)'"}],"mark":{"type":"rule","style":"mline"},"encoding":{"x":{"datum":0,"type":"quantitative","scale":{"domain":[0,1]},"axis":null},"x2":{"datum":0.55},"y":{"field":"mean","type":"quantitative"},"stroke":{"field":"g","type":"nominal","legend":null}}},
{"data":{"name":"means"},"transform":[{"filter":"datum.r=='P'&&datum.m=='CR'&&indexof(['Supervised','Unsupervised','Target (Despeckle)'],datum.g)>=0"}],"mark":{"type":"rule","style":"mline"},"encoding":{"x":{"datum":0,"type":"quantitative","scale":{"domain":[0,1]},"axis":null},"x2":{"datum":1},"y":{"field":"mean","type":"quantitative"},"stroke":{"field":"g","type":"nominal","legend":null}}}
]},
{"width":130,"height":308,"resolve":{"scale":{"x":"independent"}},"layer":[
{"data":{"name":"P_CR"},"transform":[{"filter":"datum.g=='Supervised'"},{"density":"v","bandwidth":2.7,"extent":[-1.8,23.1],"steps":100}],"mark":{"type":"area","orient":"horizontal","fill":"#008000","stroke":"#008000","style":"vio"},"encoding":{"y":{"field":"value","type":"quantitative","scale":{"domain":[-7.3,33.4],"nice":false,"zero":false},"axis":{"values":[-5,0,5,10,15,20,25,30],"labels":false,"title":null}},"x":{"field":"density","type":"quantitative","stack":"center","impute":null,"scale":{"nice":false,"zero":false,"padding":32},"axis":null}}},
{"data":{"name":"P_CR"},"transform":[{"filter":"datum.g=='Supervised'"}],"mark":{"type":"boxplot","outliers":false,"size":17,"box":{"fill":"#008000","stroke":"#008000","fillOpacity":0.5,"strokeWidth":2},"median":{"color":"#008000","strokeWidth":2},"rule":{"color":"#008000","strokeWidth":2}},"encoding":{"y":{"field":"v","type":"quantitative","title":null}}},
{"data":{"name":"P_CR"},"transform":[{"filter":"datum.g=='Supervised'"},{"window":[{"op":"row_number","as":"k"}]}],"mark":{"type":"circle","size":40,"opacity":1},"encoding":{"x":{"datum":0.15,"type":"quantitative","scale":{"domain":[0,1]},"axis":null},"xOffset":{"field":"k","type":"quantitative","scale":{"domain":[1,2,3,4,5,6,7,8,9,10,11,12,13,14,15,16,17,18,19,20,21,22,23,24,25],"range":[-7,5,-2,8,-5,1,7,-9,3,-4,9,-1,4,-8,2,-6,6,0,-3,8,-7,3,-5,5,-1],"nice":false,"zero":false}},"y":{"field":"v","type":"quantitative"},"color":{"field":"g","type":"nominal"}}},
{"data":{"name":"means"},"transform":[{"filter":"datum.r=='P'&&datum.m=='CR'&&datum.g=='Supervised'"}],"mark":{"type":"rule","style":"mline"},"encoding":{"x":{"datum":0,"type":"quantitative","scale":{"domain":[0,1]},"axis":null},"x2":{"datum":0.55},"y":{"field":"mean","type":"quantitative"},"stroke":{"field":"g","type":"nominal","legend":null}}},
{"data":{"name":"means"},"transform":[{"filter":"datum.r=='P'&&datum.m=='CR'&&indexof(['Unsupervised','Target (Despeckle)'],datum.g)>=0"}],"mark":{"type":"rule","style":"mline"},"encoding":{"x":{"datum":0,"type":"quantitative","scale":{"domain":[0,1]},"axis":null},"x2":{"datum":1},"y":{"field":"mean","type":"quantitative"},"stroke":{"field":"g","type":"nominal","legend":null}}},
{"data":{"name":"means"},"transform":[{"filter":"datum.r=='P'&&datum.m=='CR'&&datum.g=='Input (DAS)'"}],"mark":{"type":"text","style":"lbl","dx":28},"encoding":{"x":{"datum":-0.5,"type":"quantitative","scale":{"domain":[0,1]},"axis":null},"y":{"field":"ly","type":"quantitative"},"text":{"field":"label","type":"nominal"}}}
]},
{"width":130,"height":308,"resolve":{"scale":{"x":"independent"}},"layer":[
{"data":{"name":"P_CR"},"transform":[{"filter":"datum.g=='Unsupervised'"},{"density":"v","bandwidth":3.87,"extent":[-5.3,31.5],"steps":100}],"mark":{"type":"area","orient":"horizontal","fill":"#0000FF","stroke":"#0000FF","style":"vio"},"encoding":{"y":{"field":"value","type":"quantitative","scale":{"domain":[-7.3,33.4],"nice":false,"zero":false},"axis":{"values":[-5,0,5,10,15,20,25,30],"labels":false,"title":null}},"x":{"field":"density","type":"quantitative","stack":"center","impute":null,"scale":{"nice":false,"zero":false,"padding":32},"axis":null}}},
{"data":{"name":"P_CR"},"transform":[{"filter":"datum.g=='Unsupervised'"}],"mark":{"type":"boxplot","outliers":false,"size":17,"box":{"fill":"#0000FF","stroke":"#0000FF","fillOpacity":0.5,"strokeWidth":2},"median":{"color":"#0000FF","strokeWidth":2},"rule":{"color":"#0000FF","strokeWidth":2}},"encoding":{"y":{"field":"v","type":"quantitative","title":null}}},
{"data":{"name":"P_CR"},"transform":[{"filter":"datum.g=='Unsupervised'"},{"window":[{"op":"row_number","as":"k"}]}],"mark":{"type":"circle","size":40,"opacity":1},"encoding":{"x":{"datum":0.15,"type":"quantitative","scale":{"domain":[0,1]},"axis":null},"xOffset":{"field":"k","type":"quantitative","scale":{"domain":[1,2,3,4,5,6,7,8,9,10,11,12,13,14,15,16,17,18,19,20,21,22,23,24,25],"range":[-7,5,-2,8,-5,1,7,-9,3,-4,9,-1,4,-8,2,-6,6,0,-3,8,-7,3,-5,5,-1],"nice":false,"zero":false}},"y":{"field":"v","type":"quantitative"},"color":{"field":"g","type":"nominal"}}},
{"data":{"name":"means"},"transform":[{"filter":"datum.r=='P'&&datum.m=='CR'&&datum.g=='Unsupervised'"}],"mark":{"type":"rule","style":"mline"},"encoding":{"x":{"datum":0,"type":"quantitative","scale":{"domain":[0,1]},"axis":null},"x2":{"datum":0.55},"y":{"field":"mean","type":"quantitative"},"stroke":{"field":"g","type":"nominal","legend":null}}},
{"data":{"name":"means"},"transform":[{"filter":"datum.r=='P'&&datum.m=='CR'&&datum.g=='Target (Despeckle)'"}],"mark":{"type":"rule","style":"mline"},"encoding":{"x":{"datum":0,"type":"quantitative","scale":{"domain":[0,1]},"axis":null},"x2":{"datum":1},"y":{"field":"mean","type":"quantitative"},"stroke":{"field":"g","type":"nominal","legend":null}}},
{"data":{"name":"means"},"transform":[{"filter":"datum.r=='P'&&datum.m=='CR'&&datum.g=='Supervised'"}],"mark":{"type":"text","style":"lbl","dx":28},"encoding":{"x":{"datum":-0.5,"type":"quantitative","scale":{"domain":[0,1]},"axis":null},"y":{"field":"ly","type":"quantitative"},"text":{"field":"label","type":"nominal"}}}
]},
{"width":130,"height":308,"resolve":{"scale":{"x":"independent"}},"layer":[
{"data":{"name":"P_CR"},"transform":[{"filter":"datum.g=='Target (Despeckle)'"},{"density":"v","bandwidth":2.92,"extent":[-2.3,24.7],"steps":100}],"mark":{"type":"area","orient":"horizontal","fill":"#808080","stroke":"#808080","style":"vio"},"encoding":{"y":{"field":"value","type":"quantitative","scale":{"domain":[-7.3,33.4],"nice":false,"zero":false},"axis":{"values":[-5,0,5,10,15,20,25,30],"labels":false,"title":null}},"x":{"field":"density","type":"quantitative","stack":"center","impute":null,"scale":{"nice":false,"zero":false,"padding":32},"axis":null}}},
{"data":{"name":"P_CR"},"transform":[{"filter":"datum.g=='Target (Despeckle)'"}],"mark":{"type":"boxplot","outliers":false,"size":17,"box":{"fill":"#808080","stroke":"#808080","fillOpacity":0.5,"strokeWidth":2},"median":{"color":"#808080","strokeWidth":2},"rule":{"color":"#808080","strokeWidth":2}},"encoding":{"y":{"field":"v","type":"quantitative","title":null}}},
{"data":{"name":"P_CR"},"transform":[{"filter":"datum.g=='Target (Despeckle)'"},{"window":[{"op":"row_number","as":"k"}]}],"mark":{"type":"circle","size":40,"opacity":1},"encoding":{"x":{"datum":0.15,"type":"quantitative","scale":{"domain":[0,1]},"axis":null},"xOffset":{"field":"k","type":"quantitative","scale":{"domain":[1,2,3,4,5,6,7,8,9,10,11,12,13,14,15,16,17,18,19,20,21,22,23,24,25],"range":[-7,5,-2,8,-5,1,7,-9,3,-4,9,-1,4,-8,2,-6,6,0,-3,8,-7,3,-5,5,-1],"nice":false,"zero":false}},"y":{"field":"v","type":"quantitative"},"color":{"field":"g","type":"nominal"}}},
{"data":{"name":"means"},"transform":[{"filter":"datum.r=='P'&&datum.m=='CR'&&datum.g=='Target (Despeckle)'"}],"mark":{"type":"rule","style":"mline"},"encoding":{"x":{"datum":0,"type":"quantitative","scale":{"domain":[0,1]},"axis":null},"x2":{"datum":0.55},"y":{"field":"mean","type":"quantitative"},"stroke":{"field":"g","type":"nominal","legend":null}}},
{"data":{"name":"means"},"transform":[{"filter":"datum.r=='P'&&datum.m=='CR'&&datum.g=='Unsupervised'"}],"mark":{"type":"text","style":"lbl","dx":28},"encoding":{"x":{"datum":-0.5,"type":"quantitative","scale":{"domain":[0,1]},"axis":null},"y":{"field":"ly","type":"quantitative"},"text":{"field":"label","type":"nominal"}}},
{"data":{"name":"means"},"transform":[{"filter":"datum.r=='P'&&datum.m=='CR'&&datum.g=='Target (Despeckle)'"}],"mark":{"type":"text","style":"lbl","dx":28},"encoding":{"x":{"datum":0.5,"type":"quantitative","scale":{"domain":[0,1]},"axis":null},"y":{"field":"ly","type":"quantitative"},"text":{"field":"label","type":"nominal"}}}
]},
{"width":154.5,"height":308,"data":{"values":[]},"mark":{"type":"point"},"encoding":{},"view":{"fill":"transparent","stroke":null}},
{"width":130,"height":308,"resolve":{"scale":{"x":"independent"}},"layer":[
{"data":{"name":"P_CNR"},"transform":[{"filter":"datum.g=='Input (DAS)'"},{"density":"v","bandwidth":0.357,"extent":[0.06,3.19],"steps":100}],"mark":{"type":"area","orient":"horizontal","fill":"#FF0000","stroke":"#FF0000","style":"vio"},"encoding":{"y":{"field":"value","type":"quantitative","scale":{"domain":[-0.26,4.30],"nice":false,"zero":false},"axis":{"title":"CNR","values":[0,1,2,3,4],"format":"~g","titleX":-77,"titleBaseline":"alphabetic"}},"x":{"field":"density","type":"quantitative","stack":"center","impute":null,"scale":{"nice":false,"zero":false,"padding":32},"axis":null}}},
{"data":{"name":"P_CNR"},"transform":[{"filter":"datum.g=='Input (DAS)'"}],"mark":{"type":"boxplot","outliers":false,"size":17,"box":{"fill":"#FF0000","stroke":"#FF0000","fillOpacity":0.5,"strokeWidth":2},"median":{"color":"#FF0000","strokeWidth":2},"rule":{"color":"#FF0000","strokeWidth":2}},"encoding":{"y":{"field":"v","type":"quantitative","title":"CNR"}}},
{"data":{"name":"P_CNR"},"transform":[{"filter":"datum.g=='Input (DAS)'"},{"window":[{"op":"row_number","as":"k"}]}],"mark":{"type":"circle","size":40,"opacity":1},"encoding":{"x":{"datum":0.15,"type":"quantitative","scale":{"domain":[0,1]},"axis":null},"xOffset":{"field":"k","type":"quantitative","scale":{"domain":[1,2,3,4,5,6,7,8,9,10,11,12,13,14,15,16,17,18,19,20,21,22,23,24,25],"range":[-7,5,-2,8,-5,1,7,-9,3,-4,9,-1,4,-8,2,-6,6,0,-3,8,-7,3,-5,5,-1],"nice":false,"zero":false}},"y":{"field":"v","type":"quantitative"},"color":{"field":"g","type":"nominal"}}},
{"data":{"name":"means"},"transform":[{"filter":"datum.r=='P'&&datum.m=='CNR'&&datum.g=='Input (DAS)'"}],"mark":{"type":"rule","style":"mline"},"encoding":{"x":{"datum":0,"type":"quantitative","scale":{"domain":[0,1]},"axis":null},"x2":{"datum":0.55},"y":{"field":"mean","type":"quantitative"},"stroke":{"field":"g","type":"nominal","legend":null}}},
{"data":{"name":"means"},"transform":[{"filter":"datum.r=='P'&&datum.m=='CNR'&&indexof(['Supervised','Unsupervised','Target (Despeckle)'],datum.g)>=0"}],"mark":{"type":"rule","style":"mline"},"encoding":{"x":{"datum":0,"type":"quantitative","scale":{"domain":[0,1]},"axis":null},"x2":{"datum":1},"y":{"field":"mean","type":"quantitative"},"stroke":{"field":"g","type":"nominal","legend":null}}}
]},
{"width":130,"height":308,"title":{"text":"Phantom","dx":29,"offset":36},"resolve":{"scale":{"x":"independent"}},"layer":[
{"data":{"name":"P_CNR"},"transform":[{"filter":"datum.g=='Supervised'"},{"density":"v","bandwidth":0.425,"extent":[-0.05,3.87],"steps":100}],"mark":{"type":"area","orient":"horizontal","fill":"#008000","stroke":"#008000","style":"vio"},"encoding":{"y":{"field":"value","type":"quantitative","scale":{"domain":[-0.26,4.30],"nice":false,"zero":false},"axis":{"values":[0,1,2,3,4],"labels":false,"title":null}},"x":{"field":"density","type":"quantitative","stack":"center","impute":null,"scale":{"nice":false,"zero":false,"padding":32},"axis":null}}},
{"data":{"name":"P_CNR"},"transform":[{"filter":"datum.g=='Supervised'"}],"mark":{"type":"boxplot","outliers":false,"size":17,"box":{"fill":"#008000","stroke":"#008000","fillOpacity":0.5,"strokeWidth":2},"median":{"color":"#008000","strokeWidth":2},"rule":{"color":"#008000","strokeWidth":2}},"encoding":{"y":{"field":"v","type":"quantitative","title":null}}},
{"data":{"name":"P_CNR"},"transform":[{"filter":"datum.g=='Supervised'"},{"window":[{"op":"row_number","as":"k"}]}],"mark":{"type":"circle","size":40,"opacity":1},"encoding":{"x":{"datum":0.15,"type":"quantitative","scale":{"domain":[0,1]},"axis":null},"xOffset":{"field":"k","type":"quantitative","scale":{"domain":[1,2,3,4,5,6,7,8,9,10,11,12,13,14,15,16,17,18,19,20,21,22,23,24,25],"range":[-7,5,-2,8,-5,1,7,-9,3,-4,9,-1,4,-8,2,-6,6,0,-3,8,-7,3,-5,5,-1],"nice":false,"zero":false}},"y":{"field":"v","type":"quantitative"},"color":{"field":"g","type":"nominal"}}},
{"data":{"name":"means"},"transform":[{"filter":"datum.r=='P'&&datum.m=='CNR'&&datum.g=='Supervised'"}],"mark":{"type":"rule","style":"mline"},"encoding":{"x":{"datum":0,"type":"quantitative","scale":{"domain":[0,1]},"axis":null},"x2":{"datum":0.55},"y":{"field":"mean","type":"quantitative"},"stroke":{"field":"g","type":"nominal","legend":null}}},
{"data":{"name":"means"},"transform":[{"filter":"datum.r=='P'&&datum.m=='CNR'&&indexof(['Unsupervised','Target (Despeckle)'],datum.g)>=0"}],"mark":{"type":"rule","style":"mline"},"encoding":{"x":{"datum":0,"type":"quantitative","scale":{"domain":[0,1]},"axis":null},"x2":{"datum":1},"y":{"field":"mean","type":"quantitative"},"stroke":{"field":"g","type":"nominal","legend":null}}},
{"data":{"name":"means"},"transform":[{"filter":"datum.r=='P'&&datum.m=='CNR'&&datum.g=='Input (DAS)'"}],"mark":{"type":"text","style":"lbl","dx":30},"encoding":{"x":{"datum":-0.5,"type":"quantitative","scale":{"domain":[0,1]},"axis":null},"y":{"field":"ly","type":"quantitative"},"text":{"field":"label","type":"nominal"}}}
]},
{"width":130,"height":308,"resolve":{"scale":{"x":"independent"}},"layer":[
{"data":{"name":"P_CNR"},"transform":[{"filter":"datum.g=='Unsupervised'"},{"density":"v","bandwidth":0.43,"extent":[-0.01,3.85],"steps":100}],"mark":{"type":"area","orient":"horizontal","fill":"#0000FF","stroke":"#0000FF","style":"vio"},"encoding":{"y":{"field":"value","type":"quantitative","scale":{"domain":[-0.26,4.30],"nice":false,"zero":false},"axis":{"values":[0,1,2,3,4],"labels":false,"title":null}},"x":{"field":"density","type":"quantitative","stack":"center","impute":null,"scale":{"nice":false,"zero":false,"padding":32},"axis":null}}},
{"data":{"name":"P_CNR"},"transform":[{"filter":"datum.g=='Unsupervised'"}],"mark":{"type":"boxplot","outliers":false,"size":17,"box":{"fill":"#0000FF","stroke":"#0000FF","fillOpacity":0.5,"strokeWidth":2},"median":{"color":"#0000FF","strokeWidth":2},"rule":{"color":"#0000FF","strokeWidth":2}},"encoding":{"y":{"field":"v","type":"quantitative","title":null}}},
{"data":{"name":"P_CNR"},"transform":[{"filter":"datum.g=='Unsupervised'"},{"window":[{"op":"row_number","as":"k"}]}],"mark":{"type":"circle","size":40,"opacity":1},"encoding":{"x":{"datum":0.15,"type":"quantitative","scale":{"domain":[0,1]},"axis":null},"xOffset":{"field":"k","type":"quantitative","scale":{"domain":[1,2,3,4,5,6,7,8,9,10,11,12,13,14,15,16,17,18,19,20,21,22,23,24,25],"range":[-7,5,-2,8,-5,1,7,-9,3,-4,9,-1,4,-8,2,-6,6,0,-3,8,-7,3,-5,5,-1],"nice":false,"zero":false}},"y":{"field":"v","type":"quantitative"},"color":{"field":"g","type":"nominal"}}},
{"data":{"name":"means"},"transform":[{"filter":"datum.r=='P'&&datum.m=='CNR'&&datum.g=='Unsupervised'"}],"mark":{"type":"rule","style":"mline"},"encoding":{"x":{"datum":0,"type":"quantitative","scale":{"domain":[0,1]},"axis":null},"x2":{"datum":0.55},"y":{"field":"mean","type":"quantitative"},"stroke":{"field":"g","type":"nominal","legend":null}}},
{"data":{"name":"means"},"transform":[{"filter":"datum.r=='P'&&datum.m=='CNR'&&datum.g=='Target (Despeckle)'"}],"mark":{"type":"rule","style":"mline"},"encoding":{"x":{"datum":0,"type":"quantitative","scale":{"domain":[0,1]},"axis":null},"x2":{"datum":1},"y":{"field":"mean","type":"quantitative"},"stroke":{"field":"g","type":"nominal","legend":null}}},
{"data":{"name":"means"},"transform":[{"filter":"datum.r=='P'&&datum.m=='CNR'&&datum.g=='Supervised'"}],"mark":{"type":"text","style":"lbl","dx":30},"encoding":{"x":{"datum":-0.5,"type":"quantitative","scale":{"domain":[0,1]},"axis":null},"y":{"field":"ly","type":"quantitative"},"text":{"field":"label","type":"nominal"}}}
]},
{"width":130,"height":308,"resolve":{"scale":{"x":"independent"}},"layer":[
{"data":{"name":"P_CNR"},"transform":[{"filter":"datum.g=='Target (Despeckle)'"},{"density":"v","bandwidth":0.437,"extent":[0.08,4.08],"steps":100}],"mark":{"type":"area","orient":"horizontal","fill":"#808080","stroke":"#808080","style":"vio"},"encoding":{"y":{"field":"value","type":"quantitative","scale":{"domain":[-0.26,4.30],"nice":false,"zero":false},"axis":{"values":[0,1,2,3,4],"labels":false,"title":null}},"x":{"field":"density","type":"quantitative","stack":"center","impute":null,"scale":{"nice":false,"zero":false,"padding":32},"axis":null}}},
{"data":{"name":"P_CNR"},"transform":[{"filter":"datum.g=='Target (Despeckle)'"}],"mark":{"type":"boxplot","outliers":false,"size":17,"box":{"fill":"#808080","stroke":"#808080","fillOpacity":0.5,"strokeWidth":2},"median":{"color":"#808080","strokeWidth":2},"rule":{"color":"#808080","strokeWidth":2}},"encoding":{"y":{"field":"v","type":"quantitative","title":null}}},
{"data":{"name":"P_CNR"},"transform":[{"filter":"datum.g=='Target (Despeckle)'"},{"window":[{"op":"row_number","as":"k"}]}],"mark":{"type":"circle","size":40,"opacity":1},"encoding":{"x":{"datum":0.15,"type":"quantitative","scale":{"domain":[0,1]},"axis":null},"xOffset":{"field":"k","type":"quantitative","scale":{"domain":[1,2,3,4,5,6,7,8,9,10,11,12,13,14,15,16,17,18,19,20,21,22,23,24,25],"range":[-7,5,-2,8,-5,1,7,-9,3,-4,9,-1,4,-8,2,-6,6,0,-3,8,-7,3,-5,5,-1],"nice":false,"zero":false}},"y":{"field":"v","type":"quantitative"},"color":{"field":"g","type":"nominal"}}},
{"data":{"name":"means"},"transform":[{"filter":"datum.r=='P'&&datum.m=='CNR'&&datum.g=='Target (Despeckle)'"}],"mark":{"type":"rule","style":"mline"},"encoding":{"x":{"datum":0,"type":"quantitative","scale":{"domain":[0,1]},"axis":null},"x2":{"datum":0.55},"y":{"field":"mean","type":"quantitative"},"stroke":{"field":"g","type":"nominal","legend":null}}},
{"data":{"name":"means"},"transform":[{"filter":"datum.r=='P'&&datum.m=='CNR'&&datum.g=='Unsupervised'"}],"mark":{"type":"text","style":"lbl","dx":30},"encoding":{"x":{"datum":-0.5,"type":"quantitative","scale":{"domain":[0,1]},"axis":null},"y":{"field":"ly","type":"quantitative"},"text":{"field":"label","type":"nominal"}}},
{"data":{"name":"means"},"transform":[{"filter":"datum.r=='P'&&datum.m=='CNR'&&datum.g=='Target (Despeckle)'"}],"mark":{"type":"text","style":"lbl","dx":30},"encoding":{"x":{"datum":0.5,"type":"quantitative","scale":{"domain":[0,1]},"axis":null},"y":{"field":"ly","type":"quantitative"},"text":{"field":"label","type":"nominal"}}}
]},
{"width":154.5,"height":308,"data":{"values":[]},"mark":{"type":"point"},"encoding":{},"view":{"fill":"transparent","stroke":null}},
{"width":130,"height":308,"resolve":{"scale":{"x":"independent"}},"layer":[
{"data":{"name":"P_GCNR"},"transform":[{"filter":"datum.g=='Input (DAS)'"},{"density":"v","bandwidth":0.087,"extent":[0.228,1.067],"steps":100}],"mark":{"type":"area","orient":"horizontal","fill":"#FF0000","stroke":"#FF0000","style":"vio"},"encoding":{"y":{"field":"value","type":"quantitative","scale":{"domain":[0.181,1.156],"nice":false,"zero":false},"axis":{"title":"GCNR","values":[0.2,0.4,0.6,0.8,1],"format":"~g","titleX":-83,"titleBaseline":"alphabetic"}},"x":{"field":"density","type":"quantitative","stack":"center","impute":null,"scale":{"nice":false,"zero":false,"padding":32},"axis":null}}},
{"data":{"name":"P_GCNR"},"transform":[{"filter":"datum.g=='Input (DAS)'"}],"mark":{"type":"boxplot","outliers":false,"size":17,"box":{"fill":"#FF0000","stroke":"#FF0000","fillOpacity":0.5,"strokeWidth":2},"median":{"color":"#FF0000","strokeWidth":2},"rule":{"color":"#FF0000","strokeWidth":2}},"encoding":{"y":{"field":"v","type":"quantitative","title":"GCNR"}}},
{"data":{"name":"P_GCNR"},"transform":[{"filter":"datum.g=='Input (DAS)'"},{"window":[{"op":"row_number","as":"k"}]}],"mark":{"type":"circle","size":40,"opacity":1},"encoding":{"x":{"datum":0.15,"type":"quantitative","scale":{"domain":[0,1]},"axis":null},"xOffset":{"field":"k","type":"quantitative","scale":{"domain":[1,2,3,4,5,6,7,8,9,10,11,12,13,14,15,16,17,18,19,20,21,22,23,24,25],"range":[-7,5,-2,8,-5,1,7,-9,3,-4,9,-1,4,-8,2,-6,6,0,-3,8,-7,3,-5,5,-1],"nice":false,"zero":false}},"y":{"field":"v","type":"quantitative"},"color":{"field":"g","type":"nominal"}}},
{"data":{"name":"means"},"transform":[{"filter":"datum.r=='P'&&datum.m=='GCNR'&&datum.g=='Input (DAS)'"}],"mark":{"type":"rule","style":"mline"},"encoding":{"x":{"datum":0,"type":"quantitative","scale":{"domain":[0,1]},"axis":null},"x2":{"datum":0.55},"y":{"field":"mean","type":"quantitative"},"stroke":{"field":"g","type":"nominal","legend":null}}},
{"data":{"name":"means"},"transform":[{"filter":"datum.r=='P'&&datum.m=='GCNR'&&indexof(['Supervised','Unsupervised','Target (Despeckle)'],datum.g)>=0"}],"mark":{"type":"rule","style":"mline"},"encoding":{"x":{"datum":0,"type":"quantitative","scale":{"domain":[0,1]},"axis":null},"x2":{"datum":1},"y":{"field":"mean","type":"quantitative"},"stroke":{"field":"g","type":"nominal","legend":null}}}
]},
{"width":130,"height":308,"resolve":{"scale":{"x":"independent"}},"layer":[
{"data":{"name":"P_GCNR"},"transform":[{"filter":"datum.g=='Supervised'"},{"density":"v","bandwidth":0.088,"extent":[0.247,1.104],"steps":100}],"mark":{"type":"area","orient":"horizontal","fill":"#008000","stroke":"#008000","style":"vio"},"encoding":{"y":{"field":"value","type":"quantitative","scale":{"domain":[0.181,1.156],"nice":false,"zero":false},"axis":{"values":[0.2,0.4,0.6,0.8,1],"labels":false,"title":null}},"x":{"field":"density","type":"quantitative","stack":"center","impute":null,"scale":{"nice":false,"zero":false,"padding":32},"axis":null}}},
{"data":{"name":"P_GCNR"},"transform":[{"filter":"datum.g=='Supervised'"}],"mark":{"type":"boxplot","outliers":false,"size":17,"box":{"fill":"#008000","stroke":"#008000","fillOpacity":0.5,"strokeWidth":2},"median":{"color":"#008000","strokeWidth":2},"rule":{"color":"#008000","strokeWidth":2}},"encoding":{"y":{"field":"v","type":"quantitative","title":null}}},
{"data":{"name":"P_GCNR"},"transform":[{"filter":"datum.g=='Supervised'"},{"window":[{"op":"row_number","as":"k"}]}],"mark":{"type":"circle","size":40,"opacity":1},"encoding":{"x":{"datum":0.15,"type":"quantitative","scale":{"domain":[0,1]},"axis":null},"xOffset":{"field":"k","type":"quantitative","scale":{"domain":[1,2,3,4,5,6,7,8,9,10,11,12,13,14,15,16,17,18,19,20,21,22,23,24,25],"range":[-7,5,-2,8,-5,1,7,-9,3,-4,9,-1,4,-8,2,-6,6,0,-3,8,-7,3,-5,5,-1],"nice":false,"zero":false}},"y":{"field":"v","type":"quantitative"},"color":{"field":"g","type":"nominal"}}},
{"data":{"name":"means"},"transform":[{"filter":"datum.r=='P'&&datum.m=='GCNR'&&datum.g=='Supervised'"}],"mark":{"type":"rule","style":"mline"},"encoding":{"x":{"datum":0,"type":"quantitative","scale":{"domain":[0,1]},"axis":null},"x2":{"datum":0.55},"y":{"field":"mean","type":"quantitative"},"stroke":{"field":"g","type":"nominal","legend":null}}},
{"data":{"name":"means"},"transform":[{"filter":"datum.r=='P'&&datum.m=='GCNR'&&indexof(['Unsupervised','Target (Despeckle)'],datum.g)>=0"}],"mark":{"type":"rule","style":"mline"},"encoding":{"x":{"datum":0,"type":"quantitative","scale":{"domain":[0,1]},"axis":null},"x2":{"datum":1},"y":{"field":"mean","type":"quantitative"},"stroke":{"field":"g","type":"nominal","legend":null}}},
{"data":{"name":"means"},"transform":[{"filter":"datum.r=='P'&&datum.m=='GCNR'&&datum.g=='Input (DAS)'"}],"mark":{"type":"text","style":"lbl","dx":20},"encoding":{"x":{"datum":-0.5,"type":"quantitative","scale":{"domain":[0,1]},"axis":null},"y":{"field":"ly","type":"quantitative"},"text":{"field":"label","type":"nominal"}}}
]},
{"width":130,"height":308,"resolve":{"scale":{"x":"independent"}},"layer":[
{"data":{"name":"P_GCNR"},"transform":[{"filter":"datum.g=='Unsupervised'"},{"density":"v","bandwidth":0.084,"extent":[0.279,1.106],"steps":100}],"mark":{"type":"area","orient":"horizontal","fill":"#0000FF","stroke":"#0000FF","style":"vio"},"encoding":{"y":{"field":"value","type":"quantitative","scale":{"domain":[0.181,1.156],"nice":false,"zero":false},"axis":{"values":[0.2,0.4,0.6,0.8,1],"labels":false,"title":null}},"x":{"field":"density","type":"quantitative","stack":"center","impute":null,"scale":{"nice":false,"zero":false,"padding":32},"axis":null}}},
{"data":{"name":"P_GCNR"},"transform":[{"filter":"datum.g=='Unsupervised'"}],"mark":{"type":"boxplot","outliers":false,"size":17,"box":{"fill":"#0000FF","stroke":"#0000FF","fillOpacity":0.5,"strokeWidth":2},"median":{"color":"#0000FF","strokeWidth":2},"rule":{"color":"#0000FF","strokeWidth":2}},"encoding":{"y":{"field":"v","type":"quantitative","title":null}}},
{"data":{"name":"P_GCNR"},"transform":[{"filter":"datum.g=='Unsupervised'"},{"window":[{"op":"row_number","as":"k"}]}],"mark":{"type":"circle","size":40,"opacity":1},"encoding":{"x":{"datum":0.15,"type":"quantitative","scale":{"domain":[0,1]},"axis":null},"xOffset":{"field":"k","type":"quantitative","scale":{"domain":[1,2,3,4,5,6,7,8,9,10,11,12,13,14,15,16,17,18,19,20,21,22,23,24,25],"range":[-7,5,-2,8,-5,1,7,-9,3,-4,9,-1,4,-8,2,-6,6,0,-3,8,-7,3,-5,5,-1],"nice":false,"zero":false}},"y":{"field":"v","type":"quantitative"},"color":{"field":"g","type":"nominal"}}},
{"data":{"name":"means"},"transform":[{"filter":"datum.r=='P'&&datum.m=='GCNR'&&datum.g=='Unsupervised'"}],"mark":{"type":"rule","style":"mline"},"encoding":{"x":{"datum":0,"type":"quantitative","scale":{"domain":[0,1]},"axis":null},"x2":{"datum":0.55},"y":{"field":"mean","type":"quantitative"},"stroke":{"field":"g","type":"nominal","legend":null}}},
{"data":{"name":"means"},"transform":[{"filter":"datum.r=='P'&&datum.m=='GCNR'&&datum.g=='Target (Despeckle)'"}],"mark":{"type":"rule","style":"mline"},"encoding":{"x":{"datum":0,"type":"quantitative","scale":{"domain":[0,1]},"axis":null},"x2":{"datum":1},"y":{"field":"mean","type":"quantitative"},"stroke":{"field":"g","type":"nominal","legend":null}}},
{"data":{"name":"means"},"transform":[{"filter":"datum.r=='P'&&datum.m=='GCNR'&&datum.g=='Supervised'"}],"mark":{"type":"text","style":"lbl","dx":20},"encoding":{"x":{"datum":-0.5,"type":"quantitative","scale":{"domain":[0,1]},"axis":null},"y":{"field":"ly","type":"quantitative"},"text":{"field":"label","type":"nominal"}}}
]},
{"width":130,"height":308,"resolve":{"scale":{"x":"independent"}},"layer":[
{"data":{"name":"P_GCNR"},"transform":[{"filter":"datum.g=='Target (Despeckle)'"},{"density":"v","bandwidth":0.081,"extent":[0.337,1.111],"steps":100}],"mark":{"type":"area","orient":"horizontal","fill":"#808080","stroke":"#808080","style":"vio"},"encoding":{"y":{"field":"value","type":"quantitative","scale":{"domain":[0.181,1.156],"nice":false,"zero":false},"axis":{"values":[0.2,0.4,0.6,0.8,1],"labels":false,"title":null}},"x":{"field":"density","type":"quantitative","stack":"center","impute":null,"scale":{"nice":false,"zero":false,"padding":32},"axis":null}}},
{"data":{"name":"P_GCNR"},"transform":[{"filter":"datum.g=='Target (Despeckle)'"}],"mark":{"type":"boxplot","outliers":false,"size":17,"box":{"fill":"#808080","stroke":"#808080","fillOpacity":0.5,"strokeWidth":2},"median":{"color":"#808080","strokeWidth":2},"rule":{"color":"#808080","strokeWidth":2}},"encoding":{"y":{"field":"v","type":"quantitative","title":null}}},
{"data":{"name":"P_GCNR"},"transform":[{"filter":"datum.g=='Target (Despeckle)'"},{"window":[{"op":"row_number","as":"k"}]}],"mark":{"type":"circle","size":40,"opacity":1},"encoding":{"x":{"datum":0.15,"type":"quantitative","scale":{"domain":[0,1]},"axis":null},"xOffset":{"field":"k","type":"quantitative","scale":{"domain":[1,2,3,4,5,6,7,8,9,10,11,12,13,14,15,16,17,18,19,20,21,22,23,24,25],"range":[-7,5,-2,8,-5,1,7,-9,3,-4,9,-1,4,-8,2,-6,6,0,-3,8,-7,3,-5,5,-1],"nice":false,"zero":false}},"y":{"field":"v","type":"quantitative"},"color":{"field":"g","type":"nominal"}}},
{"data":{"name":"means"},"transform":[{"filter":"datum.r=='P'&&datum.m=='GCNR'&&datum.g=='Target (Despeckle)'"}],"mark":{"type":"rule","style":"mline"},"encoding":{"x":{"datum":0,"type":"quantitative","scale":{"domain":[0,1]},"axis":null},"x2":{"datum":0.55},"y":{"field":"mean","type":"quantitative"},"stroke":{"field":"g","type":"nominal","legend":null}}},
{"data":{"name":"means"},"transform":[{"filter":"datum.r=='P'&&datum.m=='GCNR'&&datum.g=='Unsupervised'"}],"mark":{"type":"text","style":"lbl","dx":20},"encoding":{"x":{"datum":-0.5,"type":"quantitative","scale":{"domain":[0,1]},"axis":null},"y":{"field":"ly","type":"quantitative"},"text":{"field":"label","type":"nominal"}}},
{"data":{"name":"means"},"transform":[{"filter":"datum.r=='P'&&datum.m=='GCNR'&&datum.g=='Target (Despeckle)'"}],"mark":{"type":"text","style":"lbl","dx":20},"encoding":{"x":{"datum":0.5,"type":"quantitative","scale":{"domain":[0,1]},"axis":null},"y":{"field":"ly","type":"quantitative"},"text":{"field":"label","type":"nominal"}}}
]},
{"width":130,"height":308,"resolve":{"scale":{"x":"independent"}},"layer":[
{"data":{"name":"C_CR"},"transform":[{"filter":"datum.g=='Input (DAS)'"},{"density":"v","bandwidth":1.48,"extent":[13.16,32.0],"steps":100}],"mark":{"type":"area","orient":"horizontal","fill":"#FF0000","stroke":"#FF0000","style":"vio"},"encoding":{"y":{"field":"value","type":"quantitative","scale":{"domain":[10.05,33.06],"nice":false,"zero":false},"axis":{"title":"CR (dB)","values":[15,20,25,30],"format":"~g","titleX":-71,"titleBaseline":"alphabetic"}},"x":{"field":"density","type":"quantitative","stack":"center","impute":null,"scale":{"nice":false,"zero":false,"padding":32},"axis":null}}},
{"data":{"name":"C_CR"},"transform":[{"filter":"datum.g=='Input (DAS)'"}],"mark":{"type":"boxplot","outliers":false,"size":17,"box":{"fill":"#FF0000","stroke":"#FF0000","fillOpacity":0.5,"strokeWidth":2},"median":{"color":"#FF0000","strokeWidth":2},"rule":{"color":"#FF0000","strokeWidth":2}},"encoding":{"y":{"field":"v","type":"quantitative","title":"CR (dB)"}}},
{"data":{"name":"C_CR"},"transform":[{"filter":"datum.g=='Input (DAS)'"},{"window":[{"op":"row_number","as":"k"}]}],"mark":{"type":"circle","size":40,"opacity":1},"encoding":{"x":{"datum":0.15,"type":"quantitative","scale":{"domain":[0,1]},"axis":null},"xOffset":{"field":"k","type":"quantitative","scale":{"domain":[1,2,3,4,5,6,7,8,9,10,11,12,13,14,15,16,17,18,19,20,21,22,23,24,25],"range":[-7,5,-2,8,-5,1,7,-9,3,-4,9,-1,4,-8,2,-6,6,0,-3,8,-7,3,-5,5,-1],"nice":false,"zero":false}},"y":{"field":"v","type":"quantitative"},"color":{"field":"g","type":"nominal"}}},
{"data":{"name":"means"},"transform":[{"filter":"datum.r=='C'&&datum.m=='CR'&&datum.g=='Input (DAS)'"}],"mark":{"type":"rule","style":"mline"},"encoding":{"x":{"datum":0,"type":"quantitative","scale":{"domain":[0,1]},"axis":null},"x2":{"datum":0.55},"y":{"field":"mean","type":"quantitative"},"stroke":{"field":"g","type":"nominal","legend":null}}},
{"data":{"name":"means"},"transform":[{"filter":"datum.r=='C'&&datum.m=='CR'&&indexof(['Supervised','Unsupervised','Target (Despeckle)'],datum.g)>=0"}],"mark":{"type":"rule","style":"mline"},"encoding":{"x":{"datum":0,"type":"quantitative","scale":{"domain":[0,1]},"axis":null},"x2":{"datum":1},"y":{"field":"mean","type":"quantitative"},"stroke":{"field":"g","type":"nominal","legend":null}}}
]},
{"width":130,"height":308,"resolve":{"scale":{"x":"independent"}},"layer":[
{"data":{"name":"C_CR"},"transform":[{"filter":"datum.g=='Supervised'"},{"density":"v","bandwidth":1.39,"extent":[12.5,30.3],"steps":100}],"mark":{"type":"area","orient":"horizontal","fill":"#008000","stroke":"#008000","style":"vio"},"encoding":{"y":{"field":"value","type":"quantitative","scale":{"domain":[10.05,33.06],"nice":false,"zero":false},"axis":{"values":[15,20,25,30],"labels":false,"title":null}},"x":{"field":"density","type":"quantitative","stack":"center","impute":null,"scale":{"nice":false,"zero":false,"padding":32},"axis":null}}},
{"data":{"name":"C_CR"},"transform":[{"filter":"datum.g=='Supervised'"}],"mark":{"type":"boxplot","outliers":false,"size":17,"box":{"fill":"#008000","stroke":"#008000","fillOpacity":0.5,"strokeWidth":2},"median":{"color":"#008000","strokeWidth":2},"rule":{"color":"#008000","strokeWidth":2}},"encoding":{"y":{"field":"v","type":"quantitative","title":null}}},
{"data":{"name":"C_CR"},"transform":[{"filter":"datum.g=='Supervised'"},{"window":[{"op":"row_number","as":"k"}]}],"mark":{"type":"circle","size":40,"opacity":1},"encoding":{"x":{"datum":0.15,"type":"quantitative","scale":{"domain":[0,1]},"axis":null},"xOffset":{"field":"k","type":"quantitative","scale":{"domain":[1,2,3,4,5,6,7,8,9,10,11,12,13,14,15,16,17,18,19,20,21,22,23,24,25],"range":[-7,5,-2,8,-5,1,7,-9,3,-4,9,-1,4,-8,2,-6,6,0,-3,8,-7,3,-5,5,-1],"nice":false,"zero":false}},"y":{"field":"v","type":"quantitative"},"color":{"field":"g","type":"nominal"}}},
{"data":{"name":"means"},"transform":[{"filter":"datum.r=='C'&&datum.m=='CR'&&datum.g=='Supervised'"}],"mark":{"type":"rule","style":"mline"},"encoding":{"x":{"datum":0,"type":"quantitative","scale":{"domain":[0,1]},"axis":null},"x2":{"datum":0.55},"y":{"field":"mean","type":"quantitative"},"stroke":{"field":"g","type":"nominal","legend":null}}},
{"data":{"name":"means"},"transform":[{"filter":"datum.r=='C'&&datum.m=='CR'&&indexof(['Unsupervised','Target (Despeckle)'],datum.g)>=0"}],"mark":{"type":"rule","style":"mline"},"encoding":{"x":{"datum":0,"type":"quantitative","scale":{"domain":[0,1]},"axis":null},"x2":{"datum":1},"y":{"field":"mean","type":"quantitative"},"stroke":{"field":"g","type":"nominal","legend":null}}},
{"data":{"name":"means"},"transform":[{"filter":"datum.r=='C'&&datum.m=='CR'&&datum.g=='Input (DAS)'"}],"mark":{"type":"text","style":"lbl","dx":20},"encoding":{"x":{"datum":-0.5,"type":"quantitative","scale":{"domain":[0,1]},"axis":null},"y":{"field":"ly","type":"quantitative"},"text":{"field":"label","type":"nominal"}}}
]},
{"width":130,"height":308,"resolve":{"scale":{"x":"independent"}},"layer":[
{"data":{"name":"C_CR"},"transform":[{"filter":"datum.g=='Unsupervised'"},{"density":"v","bandwidth":1.1,"extent":[16.7,31.1],"steps":100}],"mark":{"type":"area","orient":"horizontal","fill":"#0000FF","stroke":"#0000FF","style":"vio"},"encoding":{"y":{"field":"value","type":"quantitative","scale":{"domain":[10.05,33.06],"nice":false,"zero":false},"axis":{"values":[15,20,25,30],"labels":false,"title":null}},"x":{"field":"density","type":"quantitative","stack":"center","impute":null,"scale":{"nice":false,"zero":false,"padding":32},"axis":null}}},
{"data":{"name":"C_CR"},"transform":[{"filter":"datum.g=='Unsupervised'"}],"mark":{"type":"boxplot","outliers":false,"size":17,"box":{"fill":"#0000FF","stroke":"#0000FF","fillOpacity":0.5,"strokeWidth":2},"median":{"color":"#0000FF","strokeWidth":2},"rule":{"color":"#0000FF","strokeWidth":2}},"encoding":{"y":{"field":"v","type":"quantitative","title":null}}},
{"data":{"name":"C_CR"},"transform":[{"filter":"datum.g=='Unsupervised'"},{"window":[{"op":"row_number","as":"k"}]}],"mark":{"type":"circle","size":40,"opacity":1},"encoding":{"x":{"datum":0.15,"type":"quantitative","scale":{"domain":[0,1]},"axis":null},"xOffset":{"field":"k","type":"quantitative","scale":{"domain":[1,2,3,4,5,6,7,8,9,10,11,12,13,14,15,16,17,18,19,20,21,22,23,24,25],"range":[-7,5,-2,8,-5,1,7,-9,3,-4,9,-1,4,-8,2,-6,6,0,-3,8,-7,3,-5,5,-1],"nice":false,"zero":false}},"y":{"field":"v","type":"quantitative"},"color":{"field":"g","type":"nominal"}}},
{"data":{"name":"means"},"transform":[{"filter":"datum.r=='C'&&datum.m=='CR'&&datum.g=='Unsupervised'"}],"mark":{"type":"rule","style":"mline"},"encoding":{"x":{"datum":0,"type":"quantitative","scale":{"domain":[0,1]},"axis":null},"x2":{"datum":0.55},"y":{"field":"mean","type":"quantitative"},"stroke":{"field":"g","type":"nominal","legend":null}}},
{"data":{"name":"means"},"transform":[{"filter":"datum.r=='C'&&datum.m=='CR'&&datum.g=='Target (Despeckle)'"}],"mark":{"type":"rule","style":"mline"},"encoding":{"x":{"datum":0,"type":"quantitative","scale":{"domain":[0,1]},"axis":null},"x2":{"datum":1},"y":{"field":"mean","type":"quantitative"},"stroke":{"field":"g","type":"nominal","legend":null}}},
{"data":{"name":"means"},"transform":[{"filter":"datum.r=='C'&&datum.m=='CR'&&datum.g=='Supervised'"}],"mark":{"type":"text","style":"lbl","dx":20},"encoding":{"x":{"datum":-0.5,"type":"quantitative","scale":{"domain":[0,1]},"axis":null},"y":{"field":"ly","type":"quantitative"},"text":{"field":"label","type":"nominal"}}}
]},
{"width":130,"height":308,"resolve":{"scale":{"x":"independent"}},"layer":[
{"data":{"name":"C_CR"},"transform":[{"filter":"datum.g=='Target (Despeckle)'"},{"density":"v","bandwidth":1.57,"extent":[11.2,30.6],"steps":100}],"mark":{"type":"area","orient":"horizontal","fill":"#808080","stroke":"#808080","style":"vio"},"encoding":{"y":{"field":"value","type":"quantitative","scale":{"domain":[10.05,33.06],"nice":false,"zero":false},"axis":{"values":[15,20,25,30],"labels":false,"title":null}},"x":{"field":"density","type":"quantitative","stack":"center","impute":null,"scale":{"nice":false,"zero":false,"padding":32},"axis":null}}},
{"data":{"name":"C_CR"},"transform":[{"filter":"datum.g=='Target (Despeckle)'"}],"mark":{"type":"boxplot","outliers":false,"size":17,"box":{"fill":"#808080","stroke":"#808080","fillOpacity":0.5,"strokeWidth":2},"median":{"color":"#808080","strokeWidth":2},"rule":{"color":"#808080","strokeWidth":2}},"encoding":{"y":{"field":"v","type":"quantitative","title":null}}},
{"data":{"name":"C_CR"},"transform":[{"filter":"datum.g=='Target (Despeckle)'"},{"window":[{"op":"row_number","as":"k"}]}],"mark":{"type":"circle","size":40,"opacity":1},"encoding":{"x":{"datum":0.15,"type":"quantitative","scale":{"domain":[0,1]},"axis":null},"xOffset":{"field":"k","type":"quantitative","scale":{"domain":[1,2,3,4,5,6,7,8,9,10,11,12,13,14,15,16,17,18,19,20,21,22,23,24,25],"range":[-7,5,-2,8,-5,1,7,-9,3,-4,9,-1,4,-8,2,-6,6,0,-3,8,-7,3,-5,5,-1],"nice":false,"zero":false}},"y":{"field":"v","type":"quantitative"},"color":{"field":"g","type":"nominal"}}},
{"data":{"name":"means"},"transform":[{"filter":"datum.r=='C'&&datum.m=='CR'&&datum.g=='Target (Despeckle)'"}],"mark":{"type":"rule","style":"mline"},"encoding":{"x":{"datum":0,"type":"quantitative","scale":{"domain":[0,1]},"axis":null},"x2":{"datum":0.55},"y":{"field":"mean","type":"quantitative"},"stroke":{"field":"g","type":"nominal","legend":null}}},
{"data":{"name":"means"},"transform":[{"filter":"datum.r=='C'&&datum.m=='CR'&&datum.g=='Unsupervised'"}],"mark":{"type":"text","style":"lbl","dx":20},"encoding":{"x":{"datum":-0.5,"type":"quantitative","scale":{"domain":[0,1]},"axis":null},"y":{"field":"ly","type":"quantitative"},"text":{"field":"label","type":"nominal"}}},
{"data":{"name":"means"},"transform":[{"filter":"datum.r=='C'&&datum.m=='CR'&&datum.g=='Target (Despeckle)'"}],"mark":{"type":"text","style":"lbl","dx":20},"encoding":{"x":{"datum":0.5,"type":"quantitative","scale":{"domain":[0,1]},"axis":null},"y":{"field":"ly","type":"quantitative"},"text":{"field":"label","type":"nominal"}}}
]},
{"width":154.5,"height":308,"data":{"values":[]},"mark":{"type":"point"},"encoding":{},"view":{"fill":"transparent","stroke":null}},
{"width":130,"height":308,"resolve":{"scale":{"x":"independent"}},"layer":[
{"data":{"name":"C_CNR"},"transform":[{"filter":"datum.g=='Input (DAS)'"},{"density":"v","bandwidth":0.095,"extent":[2.12,3.33],"steps":100}],"mark":{"type":"area","orient":"horizontal","fill":"#FF0000","stroke":"#FF0000","style":"vio"},"encoding":{"y":{"field":"value","type":"quantitative","scale":{"domain":[1.96,5.19],"nice":false,"zero":false},"axis":{"title":"CNR","values":[2,2.5,3,3.5,4,4.5,5],"format":"~g","titleX":-77,"titleBaseline":"alphabetic"}},"x":{"field":"density","type":"quantitative","stack":"center","impute":null,"scale":{"nice":false,"zero":false,"padding":32},"axis":null}}},
{"data":{"name":"C_CNR"},"transform":[{"filter":"datum.g=='Input (DAS)'"}],"mark":{"type":"boxplot","outliers":false,"size":17,"box":{"fill":"#FF0000","stroke":"#FF0000","fillOpacity":0.5,"strokeWidth":2},"median":{"color":"#FF0000","strokeWidth":2},"rule":{"color":"#FF0000","strokeWidth":2}},"encoding":{"y":{"field":"v","type":"quantitative","title":"CNR"}}},
{"data":{"name":"C_CNR"},"transform":[{"filter":"datum.g=='Input (DAS)'"},{"window":[{"op":"row_number","as":"k"}]}],"mark":{"type":"circle","size":40,"opacity":1},"encoding":{"x":{"datum":0.15,"type":"quantitative","scale":{"domain":[0,1]},"axis":null},"xOffset":{"field":"k","type":"quantitative","scale":{"domain":[1,2,3,4,5,6,7,8,9,10,11,12,13,14,15,16,17,18,19,20,21,22,23,24,25],"range":[-7,5,-2,8,-5,1,7,-9,3,-4,9,-1,4,-8,2,-6,6,0,-3,8,-7,3,-5,5,-1],"nice":false,"zero":false}},"y":{"field":"v","type":"quantitative"},"color":{"field":"g","type":"nominal"}}},
{"data":{"name":"means"},"transform":[{"filter":"datum.r=='C'&&datum.m=='CNR'&&datum.g=='Input (DAS)'"}],"mark":{"type":"rule","style":"mline"},"encoding":{"x":{"datum":0,"type":"quantitative","scale":{"domain":[0,1]},"axis":null},"x2":{"datum":0.55},"y":{"field":"mean","type":"quantitative"},"stroke":{"field":"g","type":"nominal","legend":null}}},
{"data":{"name":"means"},"transform":[{"filter":"datum.r=='C'&&datum.m=='CNR'&&indexof(['Supervised','Unsupervised','Target (Despeckle)'],datum.g)>=0"}],"mark":{"type":"rule","style":"mline"},"encoding":{"x":{"datum":0,"type":"quantitative","scale":{"domain":[0,1]},"axis":null},"x2":{"datum":1},"y":{"field":"mean","type":"quantitative"},"stroke":{"field":"g","type":"nominal","legend":null}}}
]},
{"width":130,"height":308,"title":{"text":"Calf and Forearm","dx":19,"offset":27},"resolve":{"scale":{"x":"independent"}},"layer":[
{"data":{"name":"C_CNR"},"transform":[{"filter":"datum.g=='Supervised'"},{"density":"v","bandwidth":0.148,"extent":[3.01,4.90],"steps":100}],"mark":{"type":"area","orient":"horizontal","fill":"#008000","stroke":"#008000","style":"vio"},"encoding":{"y":{"field":"value","type":"quantitative","scale":{"domain":[1.96,5.19],"nice":false,"zero":false},"axis":{"values":[2,2.5,3,3.5,4,4.5,5],"labels":false,"title":null}},"x":{"field":"density","type":"quantitative","stack":"center","impute":null,"scale":{"nice":false,"zero":false,"padding":32},"axis":null}}},
{"data":{"name":"C_CNR"},"transform":[{"filter":"datum.g=='Supervised'"}],"mark":{"type":"boxplot","outliers":false,"size":17,"box":{"fill":"#008000","stroke":"#008000","fillOpacity":0.5,"strokeWidth":2},"median":{"color":"#008000","strokeWidth":2},"rule":{"color":"#008000","strokeWidth":2}},"encoding":{"y":{"field":"v","type":"quantitative","title":null}}},
{"data":{"name":"C_CNR"},"transform":[{"filter":"datum.g=='Supervised'"},{"window":[{"op":"row_number","as":"k"}]}],"mark":{"type":"circle","size":40,"opacity":1},"encoding":{"x":{"datum":0.15,"type":"quantitative","scale":{"domain":[0,1]},"axis":null},"xOffset":{"field":"k","type":"quantitative","scale":{"domain":[1,2,3,4,5,6,7,8,9,10,11,12,13,14,15,16,17,18,19,20,21,22,23,24,25],"range":[-7,5,-2,8,-5,1,7,-9,3,-4,9,-1,4,-8,2,-6,6,0,-3,8,-7,3,-5,5,-1],"nice":false,"zero":false}},"y":{"field":"v","type":"quantitative"},"color":{"field":"g","type":"nominal"}}},
{"data":{"name":"means"},"transform":[{"filter":"datum.r=='C'&&datum.m=='CNR'&&datum.g=='Supervised'"}],"mark":{"type":"rule","style":"mline"},"encoding":{"x":{"datum":0,"type":"quantitative","scale":{"domain":[0,1]},"axis":null},"x2":{"datum":0.55},"y":{"field":"mean","type":"quantitative"},"stroke":{"field":"g","type":"nominal","legend":null}}},
{"data":{"name":"means"},"transform":[{"filter":"datum.r=='C'&&datum.m=='CNR'&&indexof(['Unsupervised','Target (Despeckle)'],datum.g)>=0"}],"mark":{"type":"rule","style":"mline"},"encoding":{"x":{"datum":0,"type":"quantitative","scale":{"domain":[0,1]},"axis":null},"x2":{"datum":1},"y":{"field":"mean","type":"quantitative"},"stroke":{"field":"g","type":"nominal","legend":null}}},
{"data":{"name":"means"},"transform":[{"filter":"datum.r=='C'&&datum.m=='CNR'&&datum.g=='Input (DAS)'"}],"mark":{"type":"text","style":"lbl","dx":29},"encoding":{"x":{"datum":-0.5,"type":"quantitative","scale":{"domain":[0,1]},"axis":null},"y":{"field":"ly","type":"quantitative"},"text":{"field":"label","type":"nominal"}}}
]},
{"width":130,"height":308,"resolve":{"scale":{"x":"independent"}},"layer":[
{"data":{"name":"C_CNR"},"transform":[{"filter":"datum.g=='Unsupervised'"},{"density":"v","bandwidth":0.195,"extent":[2.60,5.04],"steps":100}],"mark":{"type":"area","orient":"horizontal","fill":"#0000FF","stroke":"#0000FF","style":"vio"},"encoding":{"y":{"field":"value","type":"quantitative","scale":{"domain":[1.96,5.19],"nice":false,"zero":false},"axis":{"values":[2,2.5,3,3.5,4,4.5,5],"labels":false,"title":null}},"x":{"field":"density","type":"quantitative","stack":"center","impute":null,"scale":{"nice":false,"zero":false,"padding":32},"axis":null}}},
{"data":{"name":"C_CNR"},"transform":[{"filter":"datum.g=='Unsupervised'"}],"mark":{"type":"boxplot","outliers":false,"size":17,"box":{"fill":"#0000FF","stroke":"#0000FF","fillOpacity":0.5,"strokeWidth":2},"median":{"color":"#0000FF","strokeWidth":2},"rule":{"color":"#0000FF","strokeWidth":2}},"encoding":{"y":{"field":"v","type":"quantitative","title":null}}},
{"data":{"name":"C_CNR"},"transform":[{"filter":"datum.g=='Unsupervised'"},{"window":[{"op":"row_number","as":"k"}]}],"mark":{"type":"circle","size":40,"opacity":1},"encoding":{"x":{"datum":0.15,"type":"quantitative","scale":{"domain":[0,1]},"axis":null},"xOffset":{"field":"k","type":"quantitative","scale":{"domain":[1,2,3,4,5,6,7,8,9,10,11,12,13,14,15,16,17,18,19,20,21,22,23,24,25],"range":[-7,5,-2,8,-5,1,7,-9,3,-4,9,-1,4,-8,2,-6,6,0,-3,8,-7,3,-5,5,-1],"nice":false,"zero":false}},"y":{"field":"v","type":"quantitative"},"color":{"field":"g","type":"nominal"}}},
{"data":{"name":"means"},"transform":[{"filter":"datum.r=='C'&&datum.m=='CNR'&&datum.g=='Unsupervised'"}],"mark":{"type":"rule","style":"mline"},"encoding":{"x":{"datum":0,"type":"quantitative","scale":{"domain":[0,1]},"axis":null},"x2":{"datum":0.55},"y":{"field":"mean","type":"quantitative"},"stroke":{"field":"g","type":"nominal","legend":null}}},
{"data":{"name":"means"},"transform":[{"filter":"datum.r=='C'&&datum.m=='CNR'&&datum.g=='Target (Despeckle)'"}],"mark":{"type":"rule","style":"mline"},"encoding":{"x":{"datum":0,"type":"quantitative","scale":{"domain":[0,1]},"axis":null},"x2":{"datum":1},"y":{"field":"mean","type":"quantitative"},"stroke":{"field":"g","type":"nominal","legend":null}}},
{"data":{"name":"means"},"transform":[{"filter":"datum.r=='C'&&datum.m=='CNR'&&datum.g=='Supervised'"}],"mark":{"type":"text","style":"lbl","dx":29},"encoding":{"x":{"datum":-0.5,"type":"quantitative","scale":{"domain":[0,1]},"axis":null},"y":{"field":"ly","type":"quantitative"},"text":{"field":"label","type":"nominal"}}}
]},
{"width":130,"height":308,"resolve":{"scale":{"x":"independent"}},"layer":[
{"data":{"name":"C_CNR"},"transform":[{"filter":"datum.g=='Target (Despeckle)'"},{"density":"v","bandwidth":0.13,"extent":[2.76,4.57],"steps":100}],"mark":{"type":"area","orient":"horizontal","fill":"#808080","stroke":"#808080","style":"vio"},"encoding":{"y":{"field":"value","type":"quantitative","scale":{"domain":[1.96,5.19],"nice":false,"zero":false},"axis":{"values":[2,2.5,3,3.5,4,4.5,5],"labels":false,"title":null}},"x":{"field":"density","type":"quantitative","stack":"center","impute":null,"scale":{"nice":false,"zero":false,"padding":32},"axis":null}}},
{"data":{"name":"C_CNR"},"transform":[{"filter":"datum.g=='Target (Despeckle)'"}],"mark":{"type":"boxplot","outliers":false,"size":17,"box":{"fill":"#808080","stroke":"#808080","fillOpacity":0.5,"strokeWidth":2},"median":{"color":"#808080","strokeWidth":2},"rule":{"color":"#808080","strokeWidth":2}},"encoding":{"y":{"field":"v","type":"quantitative","title":null}}},
{"data":{"name":"C_CNR"},"transform":[{"filter":"datum.g=='Target (Despeckle)'"},{"window":[{"op":"row_number","as":"k"}]}],"mark":{"type":"circle","size":40,"opacity":1},"encoding":{"x":{"datum":0.15,"type":"quantitative","scale":{"domain":[0,1]},"axis":null},"xOffset":{"field":"k","type":"quantitative","scale":{"domain":[1,2,3,4,5,6,7,8,9,10,11,12,13,14,15,16,17,18,19,20,21,22,23,24,25],"range":[-7,5,-2,8,-5,1,7,-9,3,-4,9,-1,4,-8,2,-6,6,0,-3,8,-7,3,-5,5,-1],"nice":false,"zero":false}},"y":{"field":"v","type":"quantitative"},"color":{"field":"g","type":"nominal"}}},
{"data":{"name":"means"},"transform":[{"filter":"datum.r=='C'&&datum.m=='CNR'&&datum.g=='Target (Despeckle)'"}],"mark":{"type":"rule","style":"mline"},"encoding":{"x":{"datum":0,"type":"quantitative","scale":{"domain":[0,1]},"axis":null},"x2":{"datum":0.55},"y":{"field":"mean","type":"quantitative"},"stroke":{"field":"g","type":"nominal","legend":null}}},
{"data":{"name":"means"},"transform":[{"filter":"datum.r=='C'&&datum.m=='CNR'&&datum.g=='Unsupervised'"}],"mark":{"type":"text","style":"lbl","dx":29},"encoding":{"x":{"datum":-0.5,"type":"quantitative","scale":{"domain":[0,1]},"axis":null},"y":{"field":"ly","type":"quantitative"},"text":{"field":"label","type":"nominal"}}},
{"data":{"name":"means"},"transform":[{"filter":"datum.r=='C'&&datum.m=='CNR'&&datum.g=='Target (Despeckle)'"}],"mark":{"type":"text","style":"lbl","dx":29},"encoding":{"x":{"datum":0.5,"type":"quantitative","scale":{"domain":[0,1]},"axis":null},"y":{"field":"ly","type":"quantitative"},"text":{"field":"label","type":"nominal"}}}
]},
{"width":154.5,"height":308,"data":{"values":[]},"mark":{"type":"point"},"encoding":{},"view":{"fill":"transparent","stroke":null}},
{"width":130,"height":308,"resolve":{"scale":{"x":"independent"}},"layer":[
{"data":{"name":"C_GCNR"},"transform":[{"filter":"datum.g=='Input (DAS)'"},{"density":"v","bandwidth":0.0053,"extent":[0.90,0.9824],"steps":100}],"mark":{"type":"area","orient":"horizontal","fill":"#FF0000","stroke":"#FF0000","style":"vio"},"encoding":{"y":{"field":"value","type":"quantitative","scale":{"domain":[0.8942,1.0138],"nice":false,"zero":false},"axis":{"title":"GCNR","values":[0.9,0.92,0.94,0.96,0.98,1],"format":"~g","titleX":-83,"titleBaseline":"alphabetic"}},"x":{"field":"density","type":"quantitative","stack":"center","impute":null,"scale":{"nice":false,"zero":false,"padding":32},"axis":null}}},
{"data":{"name":"C_GCNR"},"transform":[{"filter":"datum.g=='Input (DAS)'"}],"mark":{"type":"boxplot","outliers":false,"size":17,"box":{"fill":"#FF0000","stroke":"#FF0000","fillOpacity":0.5,"strokeWidth":2},"median":{"color":"#FF0000","strokeWidth":2},"rule":{"color":"#FF0000","strokeWidth":2}},"encoding":{"y":{"field":"v","type":"quantitative","title":"GCNR"}}},
{"data":{"name":"C_GCNR"},"transform":[{"filter":"datum.g=='Input (DAS)'"},{"window":[{"op":"row_number","as":"k"}]}],"mark":{"type":"circle","size":40,"opacity":1},"encoding":{"x":{"datum":0.15,"type":"quantitative","scale":{"domain":[0,1]},"axis":null},"xOffset":{"field":"k","type":"quantitative","scale":{"domain":[1,2,3,4,5,6,7,8,9,10,11,12,13,14,15,16,17,18,19,20,21,22,23,24,25],"range":[-7,5,-2,8,-5,1,7,-9,3,-4,9,-1,4,-8,2,-6,6,0,-3,8,-7,3,-5,5,-1],"nice":false,"zero":false}},"y":{"field":"v","type":"quantitative"},"color":{"field":"g","type":"nominal"}}},
{"data":{"name":"means"},"transform":[{"filter":"datum.r=='C'&&datum.m=='GCNR'&&datum.g=='Input (DAS)'"}],"mark":{"type":"rule","style":"mline"},"encoding":{"x":{"datum":0,"type":"quantitative","scale":{"domain":[0,1]},"axis":null},"x2":{"datum":0.55},"y":{"field":"mean","type":"quantitative"},"stroke":{"field":"g","type":"nominal","legend":null}}},
{"data":{"name":"means"},"transform":[{"filter":"datum.r=='C'&&datum.m=='GCNR'&&indexof(['Supervised','Unsupervised','Target (Despeckle)'],datum.g)>=0"}],"mark":{"type":"rule","style":"mline"},"encoding":{"x":{"datum":0,"type":"quantitative","scale":{"domain":[0,1]},"axis":null},"x2":{"datum":1},"y":{"field":"mean","type":"quantitative"},"stroke":{"field":"g","type":"nominal","legend":null}}}
]},
{"width":130,"height":308,"resolve":{"scale":{"x":"independent"}},"layer":[
{"data":{"name":"C_GCNR"},"transform":[{"filter":"datum.g=='Supervised'"},{"density":"v","bandwidth":0.0034,"extent":[0.9653,1.0067],"steps":100}],"mark":{"type":"area","orient":"horizontal","fill":"#008000","stroke":"#008000","style":"vio"},"encoding":{"y":{"field":"value","type":"quantitative","scale":{"domain":[0.8942,1.0138],"nice":false,"zero":false},"axis":{"values":[0.9,0.92,0.94,0.96,0.98,1],"labels":false,"title":null}},"x":{"field":"density","type":"quantitative","stack":"center","impute":null,"scale":{"nice":false,"zero":false,"padding":32},"axis":null}}},
{"data":{"name":"C_GCNR"},"transform":[{"filter":"datum.g=='Supervised'"}],"mark":{"type":"boxplot","outliers":false,"size":17,"box":{"fill":"#008000","stroke":"#008000","fillOpacity":0.5,"strokeWidth":2},"median":{"color":"#008000","strokeWidth":2},"rule":{"color":"#008000","strokeWidth":2}},"encoding":{"y":{"field":"v","type":"quantitative","title":null}}},
{"data":{"name":"C_GCNR"},"transform":[{"filter":"datum.g=='Supervised'"},{"window":[{"op":"row_number","as":"k"}]}],"mark":{"type":"circle","size":40,"opacity":1},"encoding":{"x":{"datum":0.15,"type":"quantitative","scale":{"domain":[0,1]},"axis":null},"xOffset":{"field":"k","type":"quantitative","scale":{"domain":[1,2,3,4,5,6,7,8,9,10,11,12,13,14,15,16,17,18,19,20,21,22,23,24,25],"range":[-7,5,-2,8,-5,1,7,-9,3,-4,9,-1,4,-8,2,-6,6,0,-3,8,-7,3,-5,5,-1],"nice":false,"zero":false}},"y":{"field":"v","type":"quantitative"},"color":{"field":"g","type":"nominal"}}},
{"data":{"name":"means"},"transform":[{"filter":"datum.r=='C'&&datum.m=='GCNR'&&datum.g=='Supervised'"}],"mark":{"type":"rule","style":"mline"},"encoding":{"x":{"datum":0,"type":"quantitative","scale":{"domain":[0,1]},"axis":null},"x2":{"datum":0.55},"y":{"field":"mean","type":"quantitative"},"stroke":{"field":"g","type":"nominal","legend":null}}},
{"data":{"name":"means"},"transform":[{"filter":"datum.r=='C'&&datum.m=='GCNR'&&indexof(['Unsupervised','Target (Despeckle)'],datum.g)>=0"}],"mark":{"type":"rule","style":"mline"},"encoding":{"x":{"datum":0,"type":"quantitative","scale":{"domain":[0,1]},"axis":null},"x2":{"datum":1},"y":{"field":"mean","type":"quantitative"},"stroke":{"field":"g","type":"nominal","legend":null}}},
{"data":{"name":"means"},"transform":[{"filter":"datum.r=='C'&&datum.m=='GCNR'&&datum.g=='Input (DAS)'"}],"mark":{"type":"text","style":"lbl","dx":44},"encoding":{"x":{"datum":-0.5,"type":"quantitative","scale":{"domain":[0,1]},"axis":null},"y":{"field":"ly","type":"quantitative"},"text":{"field":"label","type":"nominal"}}}
]},
{"width":130,"height":308,"resolve":{"scale":{"x":"independent"}},"layer":[
{"data":{"name":"C_GCNR"},"transform":[{"filter":"datum.g=='Unsupervised'"},{"density":"v","bandwidth":0.0043,"extent":[0.953,1.0083],"steps":100}],"mark":{"type":"area","orient":"horizontal","fill":"#0000FF","stroke":"#0000FF","style":"vio"},"encoding":{"y":{"field":"value","type":"quantitative","scale":{"domain":[0.8942,1.0138],"nice":false,"zero":false},"axis":{"values":[0.9,0.92,0.94,0.96,0.98,1],"labels":false,"title":null}},"x":{"field":"density","type":"quantitative","stack":"center","impute":null,"scale":{"nice":false,"zero":false,"padding":32},"axis":null}}},
{"data":{"name":"C_GCNR"},"transform":[{"filter":"datum.g=='Unsupervised'"}],"mark":{"type":"boxplot","outliers":false,"size":17,"box":{"fill":"#0000FF","stroke":"#0000FF","fillOpacity":0.5,"strokeWidth":2},"median":{"color":"#0000FF","strokeWidth":2},"rule":{"color":"#0000FF","strokeWidth":2}},"encoding":{"y":{"field":"v","type":"quantitative","title":null}}},
{"data":{"name":"C_GCNR"},"transform":[{"filter":"datum.g=='Unsupervised'"},{"window":[{"op":"row_number","as":"k"}]}],"mark":{"type":"circle","size":40,"opacity":1},"encoding":{"x":{"datum":0.15,"type":"quantitative","scale":{"domain":[0,1]},"axis":null},"xOffset":{"field":"k","type":"quantitative","scale":{"domain":[1,2,3,4,5,6,7,8,9,10,11,12,13,14,15,16,17,18,19,20,21,22,23,24,25],"range":[-7,5,-2,8,-5,1,7,-9,3,-4,9,-1,4,-8,2,-6,6,0,-3,8,-7,3,-5,5,-1],"nice":false,"zero":false}},"y":{"field":"v","type":"quantitative"},"color":{"field":"g","type":"nominal"}}},
{"data":{"name":"means"},"transform":[{"filter":"datum.r=='C'&&datum.m=='GCNR'&&datum.g=='Unsupervised'"}],"mark":{"type":"rule","style":"mline"},"encoding":{"x":{"datum":0,"type":"quantitative","scale":{"domain":[0,1]},"axis":null},"x2":{"datum":0.55},"y":{"field":"mean","type":"quantitative"},"stroke":{"field":"g","type":"nominal","legend":null}}},
{"data":{"name":"means"},"transform":[{"filter":"datum.r=='C'&&datum.m=='GCNR'&&datum.g=='Target (Despeckle)'"}],"mark":{"type":"rule","style":"mline"},"encoding":{"x":{"datum":0,"type":"quantitative","scale":{"domain":[0,1]},"axis":null},"x2":{"datum":1},"y":{"field":"mean","type":"quantitative"},"stroke":{"field":"g","type":"nominal","legend":null}}},
{"data":{"name":"means"},"transform":[{"filter":"datum.r=='C'&&datum.m=='GCNR'&&datum.g=='Supervised'"}],"mark":{"type":"text","style":"lbl","dx":22},"encoding":{"x":{"datum":-0.5,"type":"quantitative","scale":{"domain":[0,1]},"axis":null},"y":{"field":"ly","type":"quantitative"},"text":{"field":"label","type":"nominal"}}}
]},
{"width":130,"height":308,"resolve":{"scale":{"x":"independent"}},"layer":[
{"data":{"name":"C_GCNR"},"transform":[{"filter":"datum.g=='Target (Despeckle)'"},{"density":"v","bandwidth":0.0034,"extent":[0.9598,1.0067],"steps":100}],"mark":{"type":"area","orient":"horizontal","fill":"#808080","stroke":"#808080","style":"vio"},"encoding":{"y":{"field":"value","type":"quantitative","scale":{"domain":[0.8942,1.0138],"nice":false,"zero":false},"axis":{"values":[0.9,0.92,0.94,0.96,0.98,1],"labels":false,"title":null}},"x":{"field":"density","type":"quantitative","stack":"center","impute":null,"scale":{"nice":false,"zero":false,"padding":32},"axis":null}}},
{"data":{"name":"C_GCNR"},"transform":[{"filter":"datum.g=='Target (Despeckle)'"}],"mark":{"type":"boxplot","outliers":false,"size":17,"box":{"fill":"#808080","stroke":"#808080","fillOpacity":0.5,"strokeWidth":2},"median":{"color":"#808080","strokeWidth":2},"rule":{"color":"#808080","strokeWidth":2}},"encoding":{"y":{"field":"v","type":"quantitative","title":null}}},
{"data":{"name":"C_GCNR"},"transform":[{"filter":"datum.g=='Target (Despeckle)'"},{"window":[{"op":"row_number","as":"k"}]}],"mark":{"type":"circle","size":40,"opacity":1},"encoding":{"x":{"datum":0.15,"type":"quantitative","scale":{"domain":[0,1]},"axis":null},"xOffset":{"field":"k","type":"quantitative","scale":{"domain":[1,2,3,4,5,6,7,8,9,10,11,12,13,14,15,16,17,18,19,20,21,22,23,24,25],"range":[-7,5,-2,8,-5,1,7,-9,3,-4,9,-1,4,-8,2,-6,6,0,-3,8,-7,3,-5,5,-1],"nice":false,"zero":false}},"y":{"field":"v","type":"quantitative"},"color":{"field":"g","type":"nominal"}}},
{"data":{"name":"means"},"transform":[{"filter":"datum.r=='C'&&datum.m=='GCNR'&&datum.g=='Target (Despeckle)'"}],"mark":{"type":"rule","style":"mline"},"encoding":{"x":{"datum":0,"type":"quantitative","scale":{"domain":[0,1]},"axis":null},"x2":{"datum":0.55},"y":{"field":"mean","type":"quantitative"},"stroke":{"field":"g","type":"nominal","legend":null}}},
{"data":{"name":"means"},"transform":[{"filter":"datum.r=='C'&&datum.m=='GCNR'&&datum.g=='Unsupervised'"}],"mark":{"type":"text","style":"lbl","dx":28},"encoding":{"x":{"datum":-0.5,"type":"quantitative","scale":{"domain":[0,1]},"axis":null},"y":{"field":"ly","type":"quantitative"},"text":{"field":"label","type":"nominal"}}},
{"data":{"name":"means"},"transform":[{"filter":"datum.r=='C'&&datum.m=='GCNR'&&datum.g=='Target (Despeckle)'"}],"mark":{"type":"text","style":"lbl","dx":31},"encoding":{"x":{"datum":0.5,"type":"quantitative","scale":{"domain":[0,1]},"axis":null},"y":{"field":"ly","type":"quantitative"},"text":{"field":"label","type":"nominal"}}}
]}
],
"config": {
"view": {"fill": "#E5ECF6", "stroke": null},
"axis": {"domain": false, "ticks": false, "grid": true, "gridColor": "#FFFFFF", "gridWidth": 1.5, "labelFont": "Open Sans", "labelFontSize": 30, "labelColor": "#2a3f5f", "labelPadding": 2, "labelOverlap": false, "labelFlush": false, "labelBound": false, "titleFont": "Liberation Sans", "titleFontSize": 30, "titleFontWeight": "bold", "titleColor": "#000000"},
"legend": {"labelFont": "Lato", "labelFontSize": 31, "labelFontWeight": "bold", "labelColor": "#000000", "labelOffset": 8, "columnPadding": 106, "padding": 0, "labelLimit": 500},
"title": {"font": "Lato", "fontSize": 38, "fontWeight": "bold", "color": "#000000", "anchor": "middle", "frame": "group", "offset": 43, "baseline": "alphabetic"},
"style": {
"vio": {"fillOpacity": 0.5, "strokeWidth": 2},
"mline": {"strokeDash": [20, 9], "strokeWidth": 4},
"lbl": {"font": "Lato", "fontWeight": "bold", "fontSize": 19, "align": "left", "baseline": "middle", "fill": "#000000"}
}
}
}
